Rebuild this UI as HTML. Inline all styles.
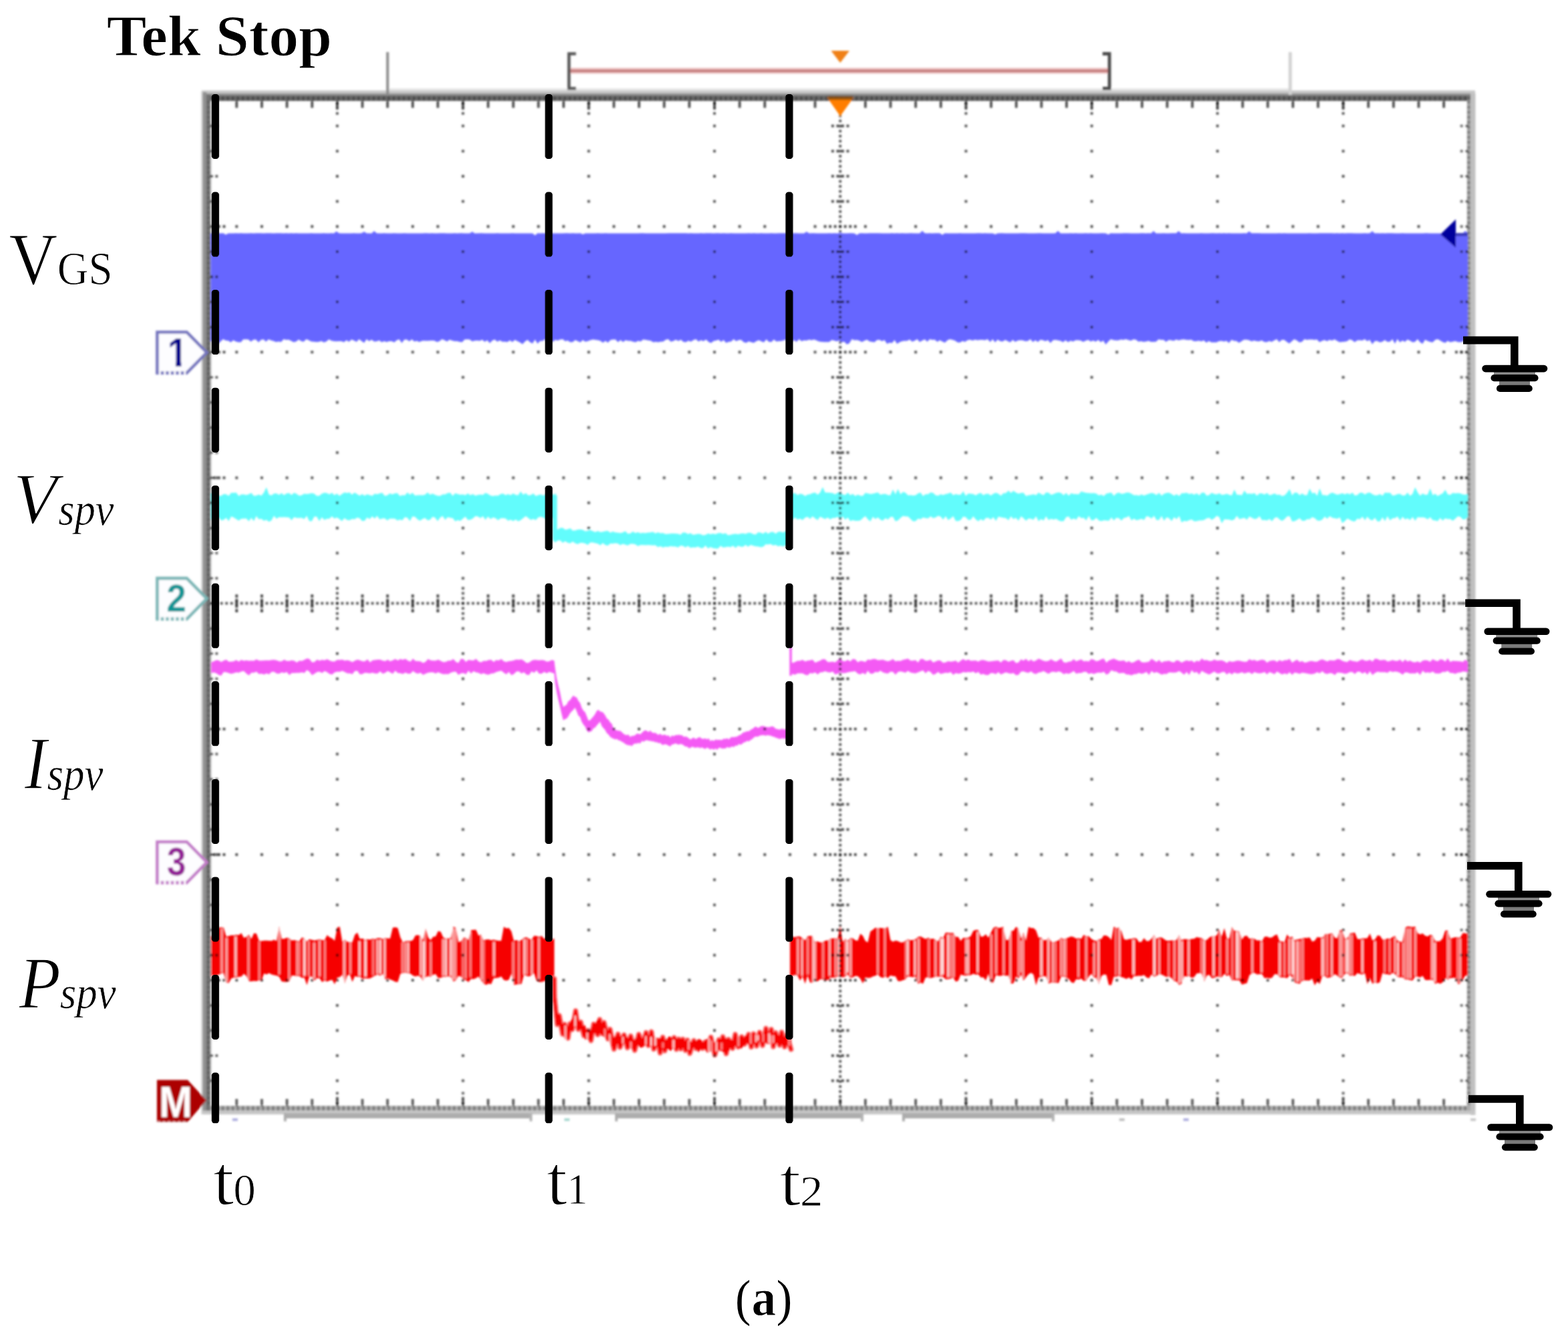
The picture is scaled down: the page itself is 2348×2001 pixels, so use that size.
<!DOCTYPE html>
<html lang="en"><head><meta charset="utf-8"><title>Tek Stop waveform (a)</title>
<style>html,body{margin:0;padding:0;background:#fff;overflow:hidden}svg{display:block}text{font-family:"Liberation Serif","DejaVu Serif",serif;fill:#000}.sans{font-family:"Liberation Sans","DejaVu Sans",sans-serif;font-weight:bold}</style></head><body>
<svg width="2348" height="2001" viewBox="0 0 2348 2001">
<defs><filter id="bl" filterUnits="userSpaceOnUse" x="0" y="0" width="2348" height="2001"><feGaussianBlur stdDeviation="1.7"/></filter><filter id="bl2" filterUnits="userSpaceOnUse" x="0" y="0" width="2348" height="2001"><feGaussianBlur stdDeviation="0.6"/></filter></defs>
<rect width="2348" height="2001" fill="#fff"/>
<g filter="url(#bl)">
<g id="frame">
<rect x="302" y="135.5" width="1907" height="5" fill="#c6c6c6"/>
<rect x="580" y="132.5" width="1352" height="3.2" fill="#e4e4e4"/>
<rect x="303" y="140" width="1906" height="4" fill="#8e8e8e"/>
<rect x="303" y="143.4" width="1900" height="7.8" fill="#666"/>
<rect x="301.3" y="137" width="2.6" height="1532" fill="#d2d2d2"/>
<rect x="303.5" y="138" width="5.8" height="1531" fill="#909090"/>
<rect x="309" y="142" width="5.9" height="1527" fill="#707070"/>
<rect x="314.9" y="151" width="1.8" height="1506" fill="#c8c8c8"/>
<rect x="2196.8" y="150" width="5.2" height="1514" fill="#a4a4a4"/>
<rect x="2202" y="140" width="7.4" height="1530" fill="#c0c0c0"/>
<rect x="315" y="1656.3" width="1887" height="7.2" fill="#ababab"/>
<rect x="303" y="1663.5" width="1906" height="5.6" fill="#c6c6c6"/>
<line x1="316.7" y1="147.3" x2="2199.7" y2="147.3" stroke="#4c4c4c" stroke-width="6.5" stroke-dasharray="3.766 3.766"/>
<line x1="316.7" y1="1659.9" x2="2199.7" y2="1659.9" stroke="#7a7a7a" stroke-width="6.5" stroke-dasharray="3.766 3.766"/>
<line x1="2199.4" y1="151.1" x2="2199.4" y2="1656.3" stroke="#7c7c7c" stroke-width="4.6" stroke-dasharray="3.766 3.766"/>
<line x1="312.6" y1="151.1" x2="312.6" y2="1656.3" stroke="#5e5e5e" stroke-width="4" stroke-dasharray="3.766 3.766"/>
<rect x="425" y="1667.5" width="372" height="7.5" fill="#acacac"/>
<rect x="425" y="1667.5" width="4" height="12" fill="#acacac"/>
<rect x="793" y="1667.5" width="4" height="12" fill="#b4b4b4"/>
<rect x="921" y="1667.5" width="372" height="7.5" fill="#acacac"/>
<rect x="921" y="1667.5" width="4" height="12" fill="#acacac"/>
<rect x="1289" y="1667.5" width="4" height="12" fill="#b4b4b4"/>
<rect x="1351" y="1667.5" width="228" height="7.5" fill="#acacac"/>
<rect x="1351" y="1667.5" width="4" height="12" fill="#acacac"/>
<rect x="1575" y="1667.5" width="4" height="12" fill="#b4b4b4"/>
<rect x="348" y="1675" width="8" height="4" fill="#b0b0e0"/>
<rect x="845" y="1675" width="8" height="4" fill="#a8d8d0"/>
<rect x="1676" y="1675" width="8" height="4" fill="#c0c0c0"/>
<rect x="1772" y="1675" width="8" height="4" fill="#b0b0e0"/>
<rect x="2202" y="1675" width="8" height="4" fill="#c8c8c8"/>
<rect x="578.4" y="78" width="4" height="64" fill="#8a8a8a"/>
<rect x="1929.5" y="78" width="5" height="64" fill="#d2d2d2"/>
</g>
<polygon points="315.5,349.4 319.3,349.4 323.0,349.4 326.8,349.3 330.6,349.5 334.3,349.3 338.1,351.5 341.9,349.4 345.6,349.4 349.4,349.5 353.1,349.3 356.9,349.5 360.7,349.3 364.4,349.5 368.2,349.5 372.0,349.5 375.7,349.3 379.5,349.4 383.3,349.3 387.0,349.3 390.8,349.3 394.6,349.5 398.3,349.3 402.1,349.3 405.9,349.3 409.6,349.5 413.4,349.3 417.2,349.3 420.9,349.3 424.7,349.4 428.4,349.3 432.2,349.4 436.0,349.3 439.7,349.4 443.5,349.3 447.3,349.4 451.0,349.5 454.8,349.4 458.6,349.5 462.3,349.4 466.1,349.3 469.9,349.5 473.6,349.4 477.4,349.4 481.2,349.4 484.9,349.3 488.7,349.5 492.5,349.4 496.2,349.3 500.0,349.5 503.8,346.4 507.5,349.3 511.3,349.5 515.0,349.4 518.8,349.4 522.6,349.4 526.3,349.5 530.1,349.3 533.9,349.4 537.6,349.4 541.4,349.3 545.2,347.1 548.9,349.3 552.7,349.4 556.5,349.5 560.2,345.9 564.0,349.3 567.8,349.4 571.5,349.5 575.3,349.3 579.0,349.4 582.8,349.5 586.6,349.5 590.3,349.3 594.1,349.4 597.9,349.5 601.6,349.4 605.4,349.3 609.2,349.5 612.9,349.5 616.7,349.4 620.5,349.4 624.2,349.4 628.0,349.4 631.8,349.5 635.5,349.3 639.3,349.3 643.1,349.5 646.8,349.3 650.6,349.5 654.4,349.4 658.1,349.3 661.9,349.3 665.6,349.3 669.4,349.4 673.2,349.4 676.9,349.4 680.7,349.3 684.5,349.4 688.2,349.3 692.0,349.3 695.8,349.5 699.5,349.5 703.3,349.4 707.1,346.9 710.8,349.5 714.6,349.4 718.4,349.3 722.1,349.3 725.9,349.5 729.6,349.4 733.4,349.4 737.2,349.5 740.9,349.4 744.7,349.3 748.5,349.5 752.2,349.4 756.0,349.5 759.8,349.4 763.5,349.5 767.3,349.3 771.1,349.4 774.8,349.4 778.6,349.4 782.4,349.5 786.1,349.5 789.9,349.4 793.7,349.4 797.4,349.5 801.2,352.4 805.0,349.3 808.7,349.4 812.5,349.3 816.2,349.5 820.0,349.3 823.8,349.5 827.5,349.5 831.3,349.4 835.1,349.5 838.8,349.5 842.6,349.4 846.4,349.3 850.1,349.3 853.9,349.4 857.7,349.3 861.4,349.4 865.2,349.4 869.0,349.3 872.7,351.1 876.5,349.4 880.2,349.5 884.0,349.4 887.8,349.5 891.5,349.4 895.3,349.3 899.1,349.5 902.8,349.5 906.6,349.3 910.4,349.5 914.1,349.4 917.9,349.5 921.7,349.5 925.4,349.4 929.2,349.4 933.0,349.4 936.7,349.4 940.5,349.4 944.3,349.4 948.0,349.5 951.8,349.4 955.5,349.5 959.3,349.3 963.1,349.3 966.8,349.4 970.6,349.4 974.4,349.5 978.1,349.5 981.9,349.5 985.7,349.5 989.4,349.4 993.2,349.4 997.0,349.4 1000.7,349.3 1004.5,349.3 1008.3,349.3 1012.0,349.3 1015.8,349.3 1019.6,349.3 1023.3,349.3 1027.1,349.3 1030.8,349.4 1034.6,349.3 1038.4,349.4 1042.1,349.4 1045.9,349.4 1049.7,349.3 1053.4,349.5 1057.2,349.3 1061.0,349.3 1064.7,349.3 1068.5,349.4 1072.3,349.3 1076.0,349.3 1079.8,349.4 1083.6,349.3 1087.3,349.5 1091.1,349.4 1094.9,349.3 1098.6,349.4 1102.4,349.5 1106.2,349.4 1109.9,349.4 1113.7,349.5 1117.4,349.5 1121.2,349.3 1125.0,349.4 1128.7,349.3 1132.5,349.4 1136.3,349.5 1140.0,349.3 1143.8,349.5 1147.6,349.4 1151.3,349.4 1155.1,349.3 1158.9,349.4 1162.6,349.5 1166.4,349.3 1170.2,349.3 1173.9,349.3 1177.7,349.3 1181.5,349.4 1185.2,349.5 1189.0,349.3 1192.7,349.3 1196.5,349.4 1200.3,349.5 1204.0,349.5 1207.8,346.9 1211.6,349.4 1215.3,349.3 1219.1,349.3 1222.9,349.4 1226.6,349.5 1230.4,349.5 1234.2,349.4 1237.9,349.4 1241.7,349.3 1245.5,349.4 1249.2,349.3 1253.0,349.4 1256.8,349.3 1260.5,349.3 1264.3,349.5 1268.0,349.5 1271.8,349.3 1275.6,349.3 1279.3,349.5 1283.1,352.1 1286.9,349.5 1290.6,349.3 1294.4,349.5 1298.2,349.5 1301.9,349.3 1305.7,349.3 1309.5,349.3 1313.2,349.3 1317.0,349.3 1320.8,349.5 1324.5,349.4 1328.3,349.5 1332.0,349.4 1335.8,349.3 1339.6,349.5 1343.3,349.3 1347.1,349.5 1350.9,349.3 1354.6,349.4 1358.4,349.5 1362.2,349.3 1365.9,349.3 1369.7,349.5 1373.5,349.4 1377.2,349.5 1381.0,345.8 1384.8,349.3 1388.5,349.4 1392.3,349.3 1396.1,349.4 1399.8,349.3 1403.6,349.3 1407.3,349.3 1411.1,351.8 1414.9,349.3 1418.6,349.5 1422.4,349.4 1426.2,349.5 1429.9,349.4 1433.7,349.4 1437.5,349.3 1441.2,349.5 1445.0,349.4 1448.8,349.5 1452.5,349.4 1456.3,349.4 1460.1,349.5 1463.8,349.3 1467.6,349.3 1471.4,349.5 1475.1,349.3 1478.9,349.5 1482.7,349.4 1486.4,349.5 1490.2,351.0 1493.9,349.4 1497.7,349.3 1501.5,349.3 1505.2,349.4 1509.0,349.4 1512.8,349.4 1516.5,349.5 1520.3,349.4 1524.1,349.4 1527.8,349.3 1531.6,349.3 1535.4,349.3 1539.1,349.4 1542.9,349.4 1546.7,349.4 1550.4,349.4 1554.2,349.3 1558.0,349.3 1561.7,349.4 1565.5,349.5 1569.2,349.4 1573.0,349.5 1576.8,349.4 1580.5,349.3 1584.3,345.7 1588.1,349.4 1591.8,349.4 1595.6,349.4 1599.4,349.5 1603.1,349.3 1606.9,349.4 1610.7,349.3 1614.4,349.4 1618.2,349.5 1622.0,349.4 1625.7,349.3 1629.5,349.4 1633.2,349.3 1637.0,349.5 1640.8,349.4 1644.5,349.4 1648.3,349.3 1652.1,349.3 1655.8,349.4 1659.6,351.2 1663.4,349.3 1667.1,349.4 1670.9,349.5 1674.7,349.5 1678.4,349.4 1682.2,349.3 1686.0,349.3 1689.7,349.3 1693.5,349.4 1697.3,349.5 1701.0,349.4 1704.8,349.4 1708.5,349.3 1712.3,349.3 1716.1,349.4 1719.8,349.3 1723.6,349.5 1727.4,346.0 1731.1,349.5 1734.9,349.5 1738.7,349.4 1742.4,349.3 1746.2,349.4 1750.0,349.4 1753.7,349.3 1757.5,349.3 1761.3,349.3 1765.0,345.9 1768.8,349.4 1772.6,349.3 1776.3,349.4 1780.1,349.5 1783.8,349.5 1787.6,349.5 1791.4,349.4 1795.1,349.5 1798.9,349.3 1802.7,349.4 1806.4,349.4 1810.2,349.4 1814.0,349.3 1817.7,349.3 1821.5,349.5 1825.3,349.3 1829.0,349.5 1832.8,349.3 1836.6,349.5 1840.3,349.3 1844.1,349.5 1847.9,349.5 1851.6,349.5 1855.4,349.4 1859.2,349.4 1862.9,349.3 1866.7,349.5 1870.4,346.4 1874.2,349.3 1878.0,349.3 1881.7,349.3 1885.5,349.3 1889.3,349.4 1893.0,349.4 1896.8,349.4 1900.6,349.5 1904.3,349.5 1908.1,349.4 1911.9,349.4 1915.6,349.3 1919.4,349.5 1923.2,349.3 1926.9,349.4 1930.7,349.4 1934.5,349.4 1938.2,349.5 1942.0,349.4 1945.7,349.5 1949.5,349.5 1953.3,349.5 1957.0,349.4 1960.8,349.3 1964.6,349.5 1968.3,349.4 1972.1,349.5 1975.9,349.3 1979.6,349.3 1983.4,349.3 1987.2,349.3 1990.9,349.3 1994.7,349.3 1998.5,349.4 2002.2,349.3 2006.0,349.4 2009.8,349.3 2013.5,349.5 2017.3,349.3 2021.0,349.3 2024.8,349.3 2028.6,349.4 2032.3,349.4 2036.1,349.5 2039.9,349.4 2043.6,349.3 2047.4,349.4 2051.2,349.3 2054.9,346.2 2058.7,349.5 2062.5,349.3 2066.2,349.4 2070.0,349.3 2073.8,349.5 2077.5,349.3 2081.3,349.3 2085.1,349.3 2088.8,349.4 2092.6,349.5 2096.3,349.4 2100.1,349.3 2103.9,349.4 2107.6,349.5 2111.4,349.4 2115.2,349.5 2118.9,349.4 2122.7,349.5 2126.5,349.4 2130.2,349.5 2134.0,349.3 2137.8,349.3 2141.5,349.4 2145.3,349.4 2149.1,349.5 2152.8,349.4 2156.6,349.4 2160.3,349.4 2164.1,349.4 2167.9,352.1 2171.6,349.3 2175.4,349.5 2179.2,349.3 2182.9,349.5 2186.7,349.5 2190.5,349.3 2194.2,345.7 2198.0,349.3 2198.0,510.2 2194.2,509.1 2190.5,511.4 2186.7,512.6 2182.9,512.3 2179.2,510.8 2175.4,511.7 2171.6,512.6 2167.9,510.6 2164.1,513.5 2160.3,512.3 2156.6,510.0 2152.8,508.1 2149.1,509.1 2145.3,512.7 2141.5,512.0 2137.8,510.8 2134.0,508.8 2130.2,514.9 2126.5,512.4 2122.7,508.0 2118.9,512.0 2115.2,512.4 2111.4,510.3 2107.6,508.4 2103.9,511.9 2100.1,510.0 2096.3,512.7 2092.6,507.8 2088.8,514.8 2085.1,508.0 2081.3,511.7 2077.5,512.0 2073.8,509.2 2070.0,511.8 2066.2,512.8 2062.5,510.7 2058.7,510.8 2054.9,515.4 2051.2,509.0 2047.4,511.0 2043.6,508.1 2039.9,510.0 2036.1,509.6 2032.3,509.8 2028.6,512.5 2024.8,509.4 2021.0,508.2 2017.3,511.0 2013.5,511.8 2009.8,511.9 2006.0,512.6 2002.2,510.4 1998.5,508.3 1994.7,510.1 1990.9,509.0 1987.2,511.0 1983.4,509.3 1979.6,510.5 1975.9,512.5 1972.1,508.4 1968.3,509.1 1964.6,508.6 1960.8,508.5 1957.0,508.9 1953.3,508.1 1949.5,511.9 1945.7,512.7 1942.0,510.1 1938.2,507.9 1934.5,511.1 1930.7,514.4 1926.9,512.1 1923.2,509.1 1919.4,509.0 1915.6,512.6 1911.9,508.1 1908.1,509.7 1904.3,512.1 1900.6,510.7 1896.8,512.5 1893.0,511.9 1889.3,509.8 1885.5,511.3 1881.7,510.9 1878.0,510.1 1874.2,511.3 1870.4,509.4 1866.7,508.8 1862.9,508.8 1859.2,510.9 1855.4,513.5 1851.6,510.7 1847.9,510.5 1844.1,509.0 1840.3,513.7 1836.6,510.5 1832.8,511.4 1829.0,510.4 1825.3,511.0 1821.5,512.8 1817.7,512.7 1814.0,512.8 1810.2,510.8 1806.4,513.3 1802.7,509.7 1798.9,511.2 1795.1,510.3 1791.4,510.9 1787.6,511.0 1783.8,508.7 1780.1,509.2 1776.3,508.9 1772.6,508.3 1768.8,508.8 1765.0,509.8 1761.3,508.5 1757.5,510.5 1753.7,509.5 1750.0,509.2 1746.2,511.9 1742.4,508.9 1738.7,509.1 1734.9,508.3 1731.1,511.8 1727.4,511.9 1723.6,512.0 1719.8,510.5 1716.1,511.4 1712.3,512.1 1708.5,511.1 1704.8,511.8 1701.0,508.8 1697.3,508.2 1693.5,510.3 1689.7,509.2 1686.0,507.9 1682.2,509.1 1678.4,508.5 1674.7,509.7 1670.9,509.8 1667.1,509.3 1663.4,507.9 1659.6,511.5 1655.8,515.9 1652.1,509.9 1648.3,512.5 1644.5,509.0 1640.8,511.8 1637.0,509.9 1633.2,511.6 1629.5,509.1 1625.7,510.3 1622.0,512.1 1618.2,510.1 1614.4,509.4 1610.7,509.4 1606.9,511.5 1603.1,510.3 1599.4,512.6 1595.6,509.4 1591.8,512.6 1588.1,510.5 1584.3,509.8 1580.5,508.9 1576.8,509.6 1573.0,513.8 1569.2,509.2 1565.5,510.9 1561.7,509.6 1558.0,508.7 1554.2,512.3 1550.4,509.4 1546.7,512.3 1542.9,507.9 1539.1,510.7 1535.4,511.0 1531.6,509.8 1527.8,509.4 1524.1,509.9 1520.3,512.1 1516.5,508.9 1512.8,512.7 1509.0,510.9 1505.2,508.9 1501.5,511.4 1497.7,511.1 1493.9,508.5 1490.2,512.7 1486.4,508.1 1482.7,512.2 1478.9,507.9 1475.1,509.6 1471.4,509.1 1467.6,509.1 1463.8,509.6 1460.1,508.8 1456.3,510.0 1452.5,508.8 1448.8,509.5 1445.0,512.0 1441.2,510.8 1437.5,513.1 1433.7,512.7 1429.9,510.1 1426.2,508.9 1422.4,508.0 1418.6,509.8 1414.9,513.2 1411.1,511.6 1407.3,509.6 1403.6,512.0 1399.8,508.7 1396.1,509.1 1392.3,508.0 1388.5,511.8 1384.8,508.2 1381.0,510.0 1377.2,512.2 1373.5,508.0 1369.7,510.2 1365.9,511.7 1362.2,508.6 1358.4,510.4 1354.6,510.4 1350.9,511.0 1347.1,512.4 1343.3,515.1 1339.6,509.2 1335.8,513.7 1332.0,513.3 1328.3,514.9 1324.5,509.3 1320.8,511.1 1317.0,509.0 1313.2,509.3 1309.5,512.5 1305.7,512.1 1301.9,511.2 1298.2,508.8 1294.4,510.2 1290.6,512.3 1286.9,510.2 1283.1,509.3 1279.3,509.6 1275.6,508.1 1271.8,514.3 1268.0,515.7 1264.3,511.8 1260.5,512.6 1256.8,509.8 1253.0,511.3 1249.2,510.0 1245.5,509.3 1241.7,512.3 1237.9,512.3 1234.2,512.3 1230.4,512.1 1226.6,511.6 1222.9,509.9 1219.1,508.5 1215.3,509.5 1211.6,508.7 1207.8,510.1 1204.0,509.7 1200.3,511.1 1196.5,508.0 1192.7,512.0 1189.0,509.2 1185.2,511.9 1181.5,510.6 1177.7,508.5 1173.9,509.6 1170.2,510.7 1166.4,510.9 1162.6,511.4 1158.9,508.5 1155.1,512.3 1151.3,511.9 1147.6,508.3 1143.8,512.8 1140.0,511.3 1136.3,509.5 1132.5,511.0 1128.7,513.6 1125.0,512.4 1121.2,511.3 1117.4,513.4 1113.7,512.5 1109.9,509.1 1106.2,509.3 1102.4,510.9 1098.6,507.9 1094.9,511.4 1091.1,511.9 1087.3,513.4 1083.6,509.3 1079.8,512.0 1076.0,508.8 1072.3,509.9 1068.5,510.7 1064.7,513.8 1061.0,512.0 1057.2,508.6 1053.4,511.0 1049.7,509.4 1045.9,511.4 1042.1,507.9 1038.4,509.2 1034.6,511.8 1030.8,510.2 1027.1,512.4 1023.3,511.9 1019.6,508.7 1015.8,510.8 1012.0,508.7 1008.3,510.7 1004.5,511.7 1000.7,508.1 997.0,508.8 993.2,511.5 989.4,511.8 985.7,512.6 981.9,512.1 978.1,512.4 974.4,510.3 970.6,509.8 966.8,508.9 963.1,508.5 959.3,511.5 955.5,510.5 951.8,512.6 948.0,511.8 944.3,510.6 940.5,510.6 936.7,509.6 933.0,512.3 929.2,509.3 925.4,512.5 921.7,508.4 917.9,508.5 914.1,509.3 910.4,513.3 906.6,510.6 902.8,513.3 899.1,510.5 895.3,509.6 891.5,508.9 887.8,508.4 884.0,509.5 880.2,511.0 876.5,511.8 872.7,509.2 869.0,512.7 865.2,511.0 861.4,509.2 857.7,512.3 853.9,512.6 850.1,509.9 846.4,511.1 842.6,508.1 838.8,508.4 835.1,510.1 831.3,509.0 827.5,512.3 823.8,508.1 820.0,511.6 816.2,507.9 812.5,510.6 808.7,510.8 805.0,514.7 801.2,508.6 797.4,514.6 793.7,512.6 789.9,509.1 786.1,511.4 782.4,515.5 778.6,512.8 774.8,511.1 771.1,509.0 767.3,512.2 763.5,509.8 759.8,512.2 756.0,511.7 752.2,511.8 748.5,509.8 744.7,511.8 740.9,508.6 737.2,510.1 733.4,513.9 729.6,509.4 725.9,512.1 722.1,508.8 718.4,510.4 714.6,510.1 710.8,510.3 707.1,511.2 703.3,508.4 699.5,508.3 695.8,508.5 692.0,512.4 688.2,511.9 684.5,510.9 680.7,511.0 676.9,509.9 673.2,508.8 669.4,511.5 665.6,509.4 661.9,507.9 658.1,510.9 654.4,512.3 650.6,510.2 646.8,509.9 643.1,510.3 639.3,510.4 635.5,510.3 631.8,510.4 628.0,512.3 624.2,510.6 620.5,511.4 616.7,508.2 612.9,511.2 609.2,508.5 605.4,508.7 601.6,513.7 597.9,508.2 594.1,509.4 590.3,512.7 586.6,511.0 582.8,511.1 579.0,512.2 575.3,510.9 571.5,512.5 567.8,509.8 564.0,511.3 560.2,511.4 556.5,508.8 552.7,511.1 548.9,508.0 545.2,513.6 541.4,510.7 537.6,508.0 533.9,512.0 530.1,509.9 526.3,508.6 522.6,512.0 518.8,509.4 515.0,512.4 511.3,511.1 507.5,511.1 503.8,511.2 500.0,510.9 496.2,510.2 492.5,508.2 488.7,511.5 484.9,512.8 481.2,510.7 477.4,512.1 473.6,512.3 469.9,511.8 466.1,511.5 462.3,509.4 458.6,507.9 454.8,511.7 451.0,511.1 447.3,508.5 443.5,511.6 439.7,512.4 436.0,510.6 432.2,508.7 428.4,509.1 424.7,508.0 420.9,512.2 417.2,511.5 413.4,512.3 409.6,510.7 405.9,509.7 402.1,508.3 398.3,511.7 394.6,508.3 390.8,508.9 387.0,512.7 383.3,508.4 379.5,508.8 375.7,511.8 372.0,508.4 368.2,508.2 364.4,508.2 360.7,512.4 356.9,512.6 353.1,511.6 349.4,509.4 345.6,512.8 341.9,510.3 338.1,510.0 334.3,508.1 330.6,510.9 326.8,515.2 323.0,508.3 319.3,508.7 315.5,512.4" fill="#6666ff" />
<polygon points="316.0,739.1 319.8,738.4 323.5,740.5 327.3,742.6 331.1,742.7 334.9,740.0 338.6,740.3 342.4,742.7 346.2,737.9 349.9,738.2 353.7,737.8 357.5,742.9 361.2,740.4 365.0,740.4 368.8,741.4 372.6,740.2 376.3,738.2 380.1,742.7 383.9,742.2 387.6,740.7 391.4,742.6 395.2,737.7 398.9,729.7 402.7,740.7 406.5,741.9 410.3,739.3 414.0,738.9 417.8,741.2 421.6,738.5 425.3,741.8 429.1,738.9 432.9,738.5 436.6,741.5 440.4,737.9 444.2,739.8 448.0,742.5 451.7,741.8 455.5,739.6 459.3,740.1 463.0,739.6 466.8,738.6 470.6,739.4 474.3,742.7 478.1,742.4 481.9,739.5 485.7,737.9 489.4,738.5 493.2,740.6 497.0,737.9 500.7,741.7 504.5,739.3 508.3,742.8 512.0,740.1 515.8,737.6 519.6,738.4 523.4,737.6 527.1,741.1 530.9,737.7 534.7,740.1 538.4,742.4 542.2,740.0 546.0,742.6 549.7,740.3 553.5,741.5 557.3,742.7 561.1,739.4 564.8,740.3 568.6,739.0 572.4,738.0 576.1,742.8 579.9,741.9 583.7,738.9 587.4,740.6 591.2,739.1 595.0,738.6 598.8,742.9 602.5,741.4 606.3,742.0 610.1,737.6 613.8,740.9 617.6,737.9 621.4,742.3 625.1,741.7 628.9,741.5 632.7,741.8 636.5,741.0 640.2,737.6 644.0,741.1 647.8,739.2 651.5,741.3 655.3,742.5 659.1,742.8 662.8,740.4 666.6,740.4 670.4,738.6 674.2,737.9 677.9,742.7 681.7,738.8 685.5,739.9 689.2,741.0 693.0,740.5 696.8,741.7 700.5,739.0 704.3,741.7 708.1,739.9 711.9,742.4 715.6,741.3 719.4,740.7 723.2,741.2 726.9,738.2 730.7,739.7 734.5,742.2 738.2,742.9 742.0,742.3 745.8,742.4 749.6,740.0 753.3,739.2 757.1,741.8 760.9,740.0 764.6,741.8 768.4,739.1 772.2,741.2 775.9,741.7 779.7,735.9 783.5,740.9 787.3,738.6 791.0,742.0 794.8,741.4 798.6,738.9 802.3,742.9 806.1,741.5 809.9,740.4 813.6,742.4 817.4,739.8 821.2,740.4 825.0,739.4 828.7,741.3 832.5,739.0 832.5,780.6 828.7,779.5 825.0,773.1 821.2,777.3 817.4,777.6 813.6,775.0 809.9,773.9 806.1,774.8 802.3,779.1 798.6,777.3 794.8,778.8 791.0,775.8 787.3,773.0 783.5,775.9 779.7,779.0 775.9,780.8 772.2,778.1 768.4,780.6 764.6,778.2 760.9,780.1 757.1,776.5 753.3,776.0 749.6,776.2 745.8,779.2 742.0,776.0 738.2,775.1 734.5,777.5 730.7,773.4 726.9,778.8 723.2,772.9 719.4,775.9 715.6,773.6 711.9,773.1 708.1,776.5 704.3,778.5 700.5,778.7 696.8,773.8 693.0,777.0 689.2,780.2 685.5,779.0 681.7,780.7 677.9,776.0 674.2,775.5 670.4,774.6 666.6,778.8 662.8,772.8 659.1,775.3 655.3,780.6 651.5,775.3 647.8,774.1 644.0,778.4 640.2,779.3 636.5,775.8 632.7,777.3 628.9,779.9 625.1,777.8 621.4,774.1 617.6,773.4 613.8,780.4 610.1,775.4 606.3,774.6 602.5,779.3 598.8,778.3 595.0,779.6 591.2,776.8 587.4,776.7 583.7,776.8 579.9,779.5 576.1,776.3 572.4,776.6 568.6,777.9 564.8,772.5 561.1,776.7 557.3,773.3 553.5,777.5 549.7,775.0 546.0,780.0 542.2,780.3 538.4,776.0 534.7,775.2 530.9,777.8 527.1,777.3 523.4,779.3 519.6,778.8 515.8,775.9 512.0,780.5 508.3,777.6 504.5,775.0 500.7,776.8 497.0,773.2 493.2,777.0 489.4,777.0 485.7,778.7 481.9,774.8 478.1,780.6 474.3,773.7 470.6,773.7 466.8,780.7 463.0,780.3 459.3,772.6 455.5,777.5 451.7,775.4 448.0,775.8 444.2,775.7 440.4,774.6 436.6,779.2 432.9,775.1 429.1,774.7 425.3,774.5 421.6,774.7 417.8,774.5 414.0,777.0 410.3,772.6 406.5,779.6 402.7,781.6 398.9,778.4 395.2,779.9 391.4,776.9 387.6,777.7 383.9,772.7 380.1,780.6 376.3,775.4 372.6,780.8 368.8,776.6 365.0,776.7 361.2,777.0 357.5,779.8 353.7,777.4 349.9,775.1 346.2,773.4 342.4,780.5 338.6,775.5 334.9,778.7 331.1,779.2 327.3,774.7 323.5,777.0 319.8,779.8 316.0,776.8" fill="#62fcfc" />
<rect x="827.6" y="742" width="6.6" height="62" fill="#62fcfc"/>
<polygon points="827.6,791.9 831.4,790.7 835.1,793.5 838.9,790.7 842.6,790.6 846.4,793.5 850.1,792.8 853.9,791.2 857.6,794.8 861.4,794.4 865.1,793.2 868.9,793.0 872.6,793.6 876.4,795.8 880.1,795.1 883.9,793.8 887.6,795.6 891.4,797.1 895.1,795.2 898.9,797.0 902.6,796.5 906.4,795.4 910.1,795.1 913.9,797.9 917.6,796.0 921.4,797.6 925.1,797.7 928.9,798.5 932.6,797.6 936.4,795.6 940.1,799.4 943.9,799.0 947.7,796.1 951.4,798.6 955.2,797.0 958.9,798.8 962.7,798.0 966.4,798.5 970.2,797.8 973.9,797.6 977.7,796.6 981.4,799.0 985.2,797.2 988.9,798.8 992.7,798.2 996.4,800.1 1000.2,799.8 1003.9,799.3 1007.7,798.9 1011.4,799.2 1015.2,799.5 1018.9,801.0 1022.7,797.6 1026.4,797.7 1030.2,800.1 1033.9,798.4 1037.7,801.0 1041.4,800.5 1045.2,799.6 1048.9,800.0 1052.7,801.8 1056.4,801.2 1060.2,798.9 1063.9,800.2 1067.7,799.3 1071.5,800.2 1075.2,798.4 1079.0,798.2 1082.7,799.7 1086.5,798.5 1090.2,801.7 1094.0,800.9 1097.7,800.1 1101.5,799.5 1105.2,800.3 1109.0,799.3 1112.7,798.7 1116.5,799.8 1120.2,798.1 1124.0,798.0 1127.7,800.1 1131.5,800.7 1135.2,797.2 1139.0,797.8 1142.7,799.5 1146.5,796.6 1150.2,799.4 1154.0,796.9 1157.7,796.6 1161.5,799.6 1165.2,796.6 1169.0,796.2 1172.7,797.7 1176.5,795.3 1180.2,796.5 1184.0,795.8 1184.0,817.0 1180.2,817.7 1176.5,816.5 1172.7,818.6 1169.0,817.2 1165.2,818.3 1161.5,816.0 1157.7,816.9 1154.0,814.8 1150.2,815.6 1146.5,815.2 1142.7,819.0 1139.0,819.4 1135.2,818.6 1131.5,818.3 1127.7,817.3 1124.0,816.1 1120.2,819.1 1116.5,816.0 1112.7,818.9 1109.0,818.8 1105.2,817.3 1101.5,820.8 1097.7,817.2 1094.0,819.4 1090.2,818.7 1086.5,819.5 1082.7,819.9 1079.0,817.5 1075.2,821.7 1071.5,821.6 1067.7,821.0 1063.9,819.2 1060.2,821.4 1056.4,816.9 1052.7,821.0 1048.9,820.8 1045.2,818.4 1041.4,820.0 1037.7,819.7 1033.9,820.6 1030.2,817.6 1026.4,820.1 1022.7,817.6 1018.9,817.2 1015.2,819.9 1011.4,818.6 1007.7,818.4 1003.9,817.9 1000.2,819.3 996.4,818.8 992.7,820.0 988.9,818.0 985.2,819.6 981.4,816.6 977.7,816.7 973.9,816.4 970.2,816.2 966.4,816.6 962.7,816.2 958.9,816.2 955.2,817.9 951.4,815.3 947.7,814.4 943.9,814.5 940.1,817.1 936.4,815.7 932.6,814.4 928.9,816.5 925.1,813.9 921.4,813.6 917.6,814.3 913.9,814.1 910.1,817.2 906.4,816.2 902.6,813.3 898.9,816.8 895.1,814.2 891.4,813.6 887.6,812.4 883.9,812.6 880.1,816.2 876.4,814.0 872.6,813.1 868.9,813.1 865.1,814.9 861.4,813.7 857.6,811.0 853.9,813.8 850.1,812.9 846.4,810.5 842.6,812.9 838.9,809.2 835.1,809.6 831.4,812.5 827.6,808.6" fill="#62fcfc" />
<polygon points="1183.0,738.5 1186.8,739.0 1190.5,738.5 1194.3,741.4 1198.0,739.6 1201.8,740.2 1205.6,742.9 1209.3,740.8 1213.1,740.2 1216.8,738.5 1220.6,737.7 1224.4,740.9 1228.1,737.8 1231.9,729.4 1235.6,737.8 1239.4,737.7 1243.1,738.1 1246.9,738.4 1250.7,740.6 1254.4,737.7 1258.2,737.6 1261.9,740.5 1265.7,741.4 1269.5,737.7 1273.2,741.8 1277.0,739.7 1280.7,742.9 1284.5,740.8 1288.3,742.4 1292.0,742.8 1295.8,738.2 1299.5,739.0 1303.3,740.0 1307.1,739.5 1310.8,738.6 1314.6,737.5 1318.3,741.0 1322.1,740.1 1325.9,739.8 1329.6,741.6 1333.4,741.8 1337.1,732.9 1340.9,740.6 1344.6,732.3 1348.4,740.5 1352.2,736.7 1355.9,737.9 1359.7,742.0 1363.4,741.5 1367.2,742.2 1371.0,741.8 1374.7,738.9 1378.5,737.8 1382.2,742.9 1386.0,740.3 1389.8,740.2 1393.5,737.6 1397.3,738.3 1401.0,741.7 1404.8,742.4 1408.6,740.2 1412.3,741.6 1416.1,740.0 1419.8,739.3 1423.6,737.7 1427.4,741.8 1431.1,740.1 1434.9,741.0 1438.6,740.9 1442.4,735.8 1446.1,742.7 1449.9,739.2 1453.7,739.4 1457.4,740.0 1461.2,742.0 1464.9,739.5 1468.7,738.2 1472.5,741.7 1476.2,739.7 1480.0,739.5 1483.7,742.2 1487.5,739.6 1491.3,738.1 1495.0,739.6 1498.8,742.4 1502.5,738.7 1506.3,738.6 1510.1,734.7 1513.8,738.6 1517.6,735.1 1521.3,737.7 1525.1,739.5 1528.9,738.2 1532.6,738.0 1536.4,743.0 1540.1,741.7 1543.9,741.2 1547.6,740.3 1551.4,741.8 1555.2,737.8 1558.9,739.9 1562.7,741.8 1566.4,737.5 1570.2,737.9 1574.0,741.2 1577.7,740.0 1581.5,738.3 1585.2,737.5 1589.0,738.4 1592.8,741.7 1596.5,738.2 1600.3,742.5 1604.0,738.8 1607.8,739.9 1611.6,740.0 1615.3,740.6 1619.1,736.0 1622.8,737.2 1626.6,738.3 1630.4,738.5 1634.1,738.8 1637.9,738.5 1641.6,739.2 1645.4,741.9 1649.1,740.8 1652.9,743.0 1656.7,739.2 1660.4,738.6 1664.2,737.8 1667.9,742.7 1671.7,738.9 1675.5,737.8 1679.2,739.7 1683.0,739.3 1686.7,737.8 1690.5,737.7 1694.3,739.5 1698.0,741.8 1701.8,741.6 1705.5,742.4 1709.3,740.4 1713.1,742.2 1716.8,740.8 1720.6,739.6 1724.3,738.3 1728.1,739.2 1731.9,741.5 1735.6,737.9 1739.4,742.6 1743.1,739.4 1746.9,738.2 1750.6,738.1 1754.4,739.9 1758.2,742.5 1761.9,740.0 1765.7,743.0 1769.4,738.7 1773.2,738.8 1777.0,738.1 1780.7,740.1 1784.5,739.0 1788.2,741.0 1792.0,738.7 1795.8,742.1 1799.5,737.9 1803.3,737.7 1807.0,742.4 1810.8,741.2 1814.6,737.9 1818.3,740.0 1822.1,740.5 1825.8,738.8 1829.6,741.3 1833.4,740.8 1837.1,739.4 1840.9,741.2 1844.6,741.9 1848.4,733.3 1852.1,740.9 1855.9,740.9 1859.7,741.7 1863.4,734.7 1867.2,739.7 1870.9,739.2 1874.7,739.8 1878.5,738.6 1882.2,742.4 1886.0,739.0 1889.7,739.1 1893.5,740.8 1897.3,738.2 1901.0,741.8 1904.8,740.8 1908.5,739.0 1912.3,741.2 1916.1,740.8 1919.8,742.9 1923.6,742.0 1927.3,738.0 1931.1,732.6 1934.9,742.0 1938.6,737.7 1942.4,738.1 1946.1,741.7 1949.9,739.0 1953.6,741.7 1957.4,741.6 1961.2,731.7 1964.9,739.1 1968.7,737.7 1972.4,742.7 1976.2,731.4 1980.0,741.4 1983.7,741.5 1987.5,742.5 1991.2,739.5 1995.0,737.7 1998.8,739.5 2002.5,741.1 2006.3,739.9 2010.0,738.8 2013.8,740.5 2017.6,738.7 2021.3,740.5 2025.1,737.8 2028.8,742.3 2032.6,741.5 2036.4,738.0 2040.1,738.1 2043.9,740.8 2047.6,738.3 2051.4,737.7 2055.1,740.2 2058.9,741.9 2062.7,741.7 2066.4,739.9 2070.2,742.4 2073.9,737.8 2077.7,738.3 2081.5,737.9 2085.2,742.2 2089.0,741.8 2092.7,740.0 2096.5,739.8 2100.3,742.3 2104.0,742.1 2107.8,737.8 2111.5,742.7 2115.3,739.8 2119.1,729.7 2122.8,737.6 2126.6,742.5 2130.3,739.1 2134.1,741.2 2137.9,740.7 2141.6,731.5 2145.4,741.8 2149.1,739.5 2152.9,742.9 2156.6,740.7 2160.4,738.9 2164.2,733.5 2167.9,740.5 2171.7,741.2 2175.4,738.2 2179.2,739.1 2183.0,738.5 2186.7,739.0 2190.5,740.4 2194.2,740.9 2198.0,740.1 2198.0,774.3 2194.2,777.7 2190.5,778.0 2186.7,774.1 2183.0,773.2 2179.2,776.9 2175.4,780.0 2171.7,777.2 2167.9,777.6 2164.2,776.2 2160.4,779.8 2156.6,775.7 2152.9,780.4 2149.1,779.5 2145.4,778.9 2141.6,774.6 2137.9,778.0 2134.1,775.4 2130.3,774.7 2126.6,774.9 2122.8,774.6 2119.1,779.9 2115.3,774.3 2111.5,778.9 2107.8,776.2 2104.0,778.0 2100.3,773.9 2096.5,779.5 2092.7,773.5 2089.0,776.0 2085.2,776.2 2081.5,779.5 2077.7,773.1 2073.9,780.6 2070.2,774.8 2066.4,780.7 2062.7,780.9 2058.9,775.4 2055.1,779.6 2051.4,778.3 2047.6,773.7 2043.9,779.3 2040.1,773.7 2036.4,777.7 2032.6,776.8 2028.8,780.9 2025.1,780.4 2021.3,778.4 2017.6,776.6 2013.8,780.6 2010.0,783.5 2006.3,774.7 2002.5,777.0 1998.8,776.2 1995.0,775.5 1991.2,773.1 1987.5,777.1 1983.7,773.8 1980.0,778.3 1976.2,779.9 1972.4,779.5 1968.7,776.1 1964.9,774.4 1961.2,777.8 1957.4,777.5 1953.6,780.0 1949.9,780.1 1946.1,776.0 1942.4,778.5 1938.6,780.4 1934.9,781.1 1931.1,773.0 1927.3,773.6 1923.6,777.4 1919.8,780.3 1916.1,778.1 1912.3,774.4 1908.5,775.8 1904.8,780.7 1901.0,777.3 1897.3,779.6 1893.5,778.8 1889.7,779.0 1886.0,773.1 1882.2,776.7 1878.5,777.6 1874.7,775.4 1870.9,773.6 1867.2,778.4 1863.4,775.5 1859.7,776.4 1855.9,777.5 1852.1,772.5 1848.4,777.9 1844.6,779.4 1840.9,778.2 1837.1,778.1 1833.4,777.7 1829.6,783.7 1825.8,774.4 1822.1,772.5 1818.3,776.3 1814.6,778.7 1810.8,775.6 1807.0,776.3 1803.3,778.7 1799.5,779.6 1795.8,779.5 1792.0,780.6 1788.2,780.8 1784.5,778.1 1780.7,779.0 1777.0,780.8 1773.2,780.1 1769.4,782.6 1765.7,772.7 1761.9,777.7 1758.2,774.4 1754.4,780.5 1750.6,776.0 1746.9,774.8 1743.1,780.0 1739.4,772.8 1735.6,778.7 1731.9,779.1 1728.1,772.6 1724.3,776.7 1720.6,773.9 1716.8,772.9 1713.1,778.9 1709.3,777.0 1705.5,778.2 1701.8,779.2 1698.0,776.7 1694.3,779.4 1690.5,772.7 1686.7,775.0 1683.0,775.7 1679.2,779.7 1675.5,776.0 1671.7,775.4 1667.9,779.5 1664.2,775.0 1660.4,779.9 1656.7,779.6 1652.9,779.3 1649.1,780.5 1645.4,779.4 1641.6,775.5 1637.9,779.0 1634.1,779.2 1630.4,772.6 1626.6,779.6 1622.8,775.6 1619.1,776.1 1615.3,772.9 1611.6,778.5 1607.8,776.5 1604.0,778.6 1600.3,773.6 1596.5,774.5 1592.8,780.5 1589.0,780.8 1585.2,779.6 1581.5,777.0 1577.7,778.2 1574.0,776.9 1570.2,779.0 1566.4,773.3 1562.7,779.7 1558.9,777.3 1555.2,780.7 1551.4,773.3 1547.6,778.4 1543.9,777.0 1540.1,776.5 1536.4,780.1 1532.6,776.0 1528.9,773.3 1525.1,779.9 1521.3,775.5 1517.6,777.6 1513.8,773.2 1510.1,779.3 1506.3,776.1 1502.5,775.5 1498.8,774.7 1495.0,773.7 1491.3,780.3 1487.5,774.6 1483.7,778.2 1480.0,775.5 1476.2,775.7 1472.5,780.0 1468.7,777.6 1464.9,780.8 1461.2,778.0 1457.4,773.3 1453.7,778.4 1449.9,778.8 1446.1,774.6 1442.4,773.7 1438.6,778.7 1434.9,780.4 1431.1,780.3 1427.4,772.9 1423.6,776.5 1419.8,779.1 1416.1,772.9 1412.3,778.2 1408.6,773.7 1404.8,772.6 1401.0,775.0 1397.3,776.1 1393.5,773.2 1389.8,776.6 1386.0,775.9 1382.2,775.0 1378.5,777.7 1374.7,776.8 1371.0,780.4 1367.2,780.8 1363.4,777.2 1359.7,773.5 1355.9,773.6 1352.2,772.8 1348.4,775.7 1344.6,779.5 1340.9,780.7 1337.1,774.1 1333.4,774.2 1329.6,778.3 1325.9,775.9 1322.1,779.8 1318.3,778.6 1314.6,774.8 1310.8,777.4 1307.1,774.1 1303.3,780.9 1299.5,777.7 1295.8,773.0 1292.0,775.9 1288.3,779.6 1284.5,780.1 1280.7,779.9 1277.0,779.0 1273.2,780.4 1269.5,775.0 1265.7,778.5 1261.9,773.6 1258.2,777.5 1254.4,774.1 1250.7,775.8 1246.9,775.7 1243.1,777.9 1239.4,774.9 1235.6,777.6 1231.9,775.7 1228.1,773.8 1224.4,779.0 1220.6,776.5 1216.8,773.2 1213.1,777.3 1209.3,774.0 1205.6,775.3 1201.8,779.1 1198.0,776.7 1194.3,778.2 1190.5,775.0 1186.8,778.2 1183.0,780.7" fill="#62fcfc" />
<polygon points="316.0,991.7 319.8,990.8 323.6,988.7 327.3,989.1 331.1,991.4 334.9,989.5 338.7,987.9 342.5,991.1 346.2,990.9 350.0,990.4 353.8,988.6 357.6,991.1 361.4,988.2 365.1,989.7 368.9,989.0 372.7,989.8 376.5,989.4 380.2,989.8 384.0,987.6 387.8,989.4 391.6,989.6 395.4,989.2 399.1,989.0 402.9,989.2 406.7,988.6 410.5,988.2 414.3,989.0 418.0,990.6 421.8,990.4 425.6,987.9 429.4,990.0 433.2,990.0 436.9,988.9 440.7,989.8 444.5,992.3 448.3,989.5 452.1,989.9 455.8,988.2 459.6,986.2 463.4,987.0 467.2,992.0 471.0,991.5 474.7,987.9 478.5,989.6 482.3,988.3 486.1,988.9 489.9,987.2 493.6,989.2 497.4,990.8 501.2,990.8 505.0,988.2 508.8,988.5 512.5,988.0 516.3,989.6 520.1,988.8 523.9,989.8 527.6,991.7 531.4,989.6 535.2,988.0 539.0,988.9 542.8,990.5 546.5,990.4 550.3,987.6 554.1,991.9 557.9,989.0 561.7,988.6 565.4,988.1 569.2,988.1 573.0,989.6 576.8,990.3 580.6,987.9 584.3,990.5 588.1,989.1 591.9,986.9 595.7,989.2 599.5,987.0 603.2,988.3 607.0,986.7 610.8,989.5 614.6,991.1 618.4,986.5 622.1,990.0 625.9,990.3 629.7,990.5 633.5,993.0 637.2,991.3 641.0,986.9 644.8,988.9 648.6,989.6 652.4,989.5 656.1,988.0 659.9,989.7 663.7,991.8 667.5,991.2 671.3,989.4 675.0,989.4 678.8,987.0 682.6,991.2 686.4,993.0 690.2,986.7 693.9,987.0 697.7,991.5 701.5,988.2 705.3,989.0 709.1,989.3 712.8,986.8 716.6,990.7 720.4,992.1 724.2,989.7 728.0,990.1 731.7,988.4 735.5,988.2 739.3,991.4 743.1,988.4 746.9,989.2 750.6,987.0 754.4,990.6 758.2,991.5 762.0,990.2 765.8,989.9 769.5,988.9 773.3,987.7 777.1,988.3 780.9,987.5 784.6,989.8 788.4,992.9 792.2,992.5 796.0,989.5 799.8,988.3 803.5,988.5 807.3,989.1 811.1,988.6 814.9,988.9 818.7,991.1 822.4,990.6 826.2,988.6 830.0,989.6 831.0,998.8 833.5,1015.2 836.0,1026.5 838.5,1036.8 841.0,1049.6 843.5,1059.1 846.0,1057.0 848.5,1055.6 851.0,1050.3 853.5,1048.8 856.0,1044.9 858.5,1041.7 861.0,1043.7 863.5,1044.6 866.0,1049.6 868.6,1052.8 871.1,1059.9 873.6,1064.4 876.1,1066.5 878.6,1072.4 881.1,1079.3 883.6,1078.8 886.1,1075.7 888.6,1073.0 891.1,1069.5 893.6,1064.7 896.1,1063.1 898.6,1065.8 901.1,1065.9 903.6,1067.8 906.1,1071.3 908.6,1075.9 911.1,1077.7 913.6,1081.8 916.1,1083.9 918.6,1090.7 921.1,1093.3 923.6,1093.8 926.1,1094.6 928.6,1094.6 931.1,1096.5 933.6,1098.9 936.1,1100.4 938.7,1101.1 941.2,1100.2 943.7,1104.1 946.2,1102.1 948.7,1102.2 951.2,1101.1 953.7,1098.7 956.2,1098.9 958.7,1100.0 961.2,1097.4 963.7,1095.3 966.2,1093.7 968.7,1094.8 971.2,1096.4 973.7,1094.0 976.2,1096.9 978.7,1097.7 981.2,1097.4 983.7,1099.3 986.2,1100.7 988.7,1098.7 991.2,1101.5 993.7,1100.6 996.2,1100.6 998.7,1102.3 1001.2,1101.2 1003.7,1104.7 1006.2,1101.3 1008.8,1102.8 1011.3,1100.9 1013.8,1101.0 1016.3,1100.6 1018.8,1101.1 1021.3,1101.2 1023.8,1103.4 1026.3,1103.2 1028.8,1103.8 1031.3,1105.8 1033.8,1107.8 1036.3,1106.1 1038.8,1104.6 1041.3,1107.1 1043.8,1106.0 1046.3,1104.3 1048.8,1104.6 1051.3,1106.7 1053.8,1106.6 1056.3,1106.1 1058.8,1107.4 1061.3,1105.7 1063.8,1110.2 1066.3,1108.2 1068.8,1109.9 1071.3,1107.6 1073.8,1108.2 1076.3,1108.1 1078.9,1108.3 1081.4,1108.2 1083.9,1106.2 1086.4,1107.0 1088.9,1105.5 1091.4,1107.7 1093.9,1104.7 1096.4,1103.7 1098.9,1104.3 1101.4,1103.6 1103.9,1103.2 1106.4,1101.3 1108.9,1100.7 1111.4,1098.2 1113.9,1096.7 1116.4,1096.3 1118.9,1095.1 1121.4,1095.6 1123.9,1093.0 1126.4,1092.1 1128.9,1089.9 1131.4,1088.0 1133.9,1089.8 1136.4,1089.9 1138.9,1087.8 1141.4,1087.5 1143.9,1087.4 1146.4,1088.8 1149.0,1088.9 1151.5,1089.2 1154.0,1088.5 1156.5,1087.7 1159.0,1089.0 1161.5,1091.5 1164.0,1092.0 1166.5,1092.7 1169.0,1092.2 1171.5,1091.2 1174.0,1093.0 1176.5,1091.5 1179.0,1094.1 1181.5,1093.9 1184.0,1094.2 1184.0,1107.7 1181.5,1108.2 1179.0,1107.1 1176.5,1106.1 1174.0,1106.4 1171.5,1105.5 1169.0,1106.7 1166.5,1106.5 1164.0,1105.5 1161.5,1104.7 1159.0,1103.5 1156.5,1103.0 1154.0,1101.7 1151.5,1101.4 1149.0,1101.1 1146.4,1102.1 1143.9,1100.9 1141.4,1101.3 1138.9,1101.2 1136.4,1102.4 1133.9,1103.4 1131.4,1102.9 1128.9,1104.6 1126.4,1107.1 1123.9,1108.2 1121.4,1110.4 1118.9,1109.5 1116.4,1111.3 1113.9,1112.1 1111.4,1113.9 1108.9,1115.6 1106.4,1114.3 1103.9,1116.9 1101.4,1116.4 1098.9,1119.1 1096.4,1118.0 1093.9,1119.3 1091.4,1120.1 1088.9,1118.8 1086.4,1121.0 1083.9,1121.0 1081.4,1121.2 1078.9,1119.9 1076.3,1119.9 1073.8,1123.3 1071.3,1120.8 1068.8,1123.2 1066.3,1121.0 1063.8,1122.7 1061.3,1120.9 1058.8,1119.4 1056.3,1121.8 1053.8,1121.1 1051.3,1119.3 1048.8,1120.4 1046.3,1119.5 1043.8,1119.3 1041.3,1120.1 1038.8,1119.3 1036.3,1118.2 1033.8,1120.3 1031.3,1120.6 1028.8,1118.0 1026.3,1118.3 1023.8,1116.3 1021.3,1114.7 1018.8,1114.3 1016.3,1115.2 1013.8,1114.4 1011.3,1113.3 1008.8,1114.7 1006.2,1115.1 1003.7,1117.9 1001.2,1116.7 998.7,1115.6 996.2,1114.4 993.7,1115.6 991.2,1115.6 988.7,1112.5 986.2,1113.2 983.7,1111.6 981.2,1111.7 978.7,1110.3 976.2,1110.6 973.7,1109.6 971.2,1109.6 968.7,1108.4 966.2,1109.2 963.7,1111.0 961.2,1109.6 958.7,1113.7 956.2,1112.5 953.7,1113.7 951.2,1113.4 948.7,1114.6 946.2,1117.5 943.7,1116.2 941.2,1116.3 938.7,1115.6 936.1,1114.3 933.6,1112.1 931.1,1111.1 928.6,1109.3 926.1,1108.7 923.6,1106.7 921.1,1107.6 918.6,1106.2 916.1,1105.2 913.6,1103.4 911.1,1099.9 908.6,1097.9 906.1,1093.3 903.6,1090.4 901.1,1087.4 898.6,1080.8 896.1,1083.8 893.6,1086.4 891.1,1089.8 888.6,1090.7 886.1,1094.9 883.6,1095.8 881.1,1096.9 878.6,1093.7 876.1,1088.1 873.6,1085.3 871.1,1080.9 868.6,1073.8 866.0,1071.7 863.5,1065.3 861.0,1059.7 858.5,1063.2 856.0,1065.4 853.5,1068.5 851.0,1073.1 848.5,1076.2 846.0,1077.1 843.5,1079.0 841.0,1069.6 838.5,1058.1 836.0,1047.7 833.5,1036.6 831.0,1020.8 830.0,1008.7 826.2,1007.5 822.4,1006.3 818.7,1008.5 814.9,1006.3 811.1,1009.0 807.3,1009.0 803.5,1003.9 799.8,1007.8 796.0,1005.5 792.2,1011.1 788.4,1010.6 784.6,1006.8 780.9,1008.7 777.1,1005.6 773.3,1005.8 769.5,1009.5 765.8,1011.2 762.0,1006.2 758.2,1010.1 754.4,1007.4 750.6,1004.6 746.9,1005.6 743.1,1006.6 739.3,1008.5 735.5,1008.8 731.7,1010.5 728.0,1010.0 724.2,1008.3 720.4,1009.8 716.6,1007.7 712.8,1007.1 709.1,1005.3 705.3,1008.7 701.5,1004.6 697.7,1009.9 693.9,1008.0 690.2,1008.6 686.4,1010.7 682.6,1006.0 678.8,1006.2 675.0,1007.5 671.3,1009.8 667.5,1009.4 663.7,1009.8 659.9,1008.6 656.1,1006.8 652.4,1008.7 648.6,1007.0 644.8,1007.0 641.0,1007.5 637.2,1009.1 633.5,1010.7 629.7,1007.5 625.9,1008.9 622.1,1007.7 618.4,1005.1 614.6,1009.1 610.8,1008.9 607.0,1007.3 603.2,1009.6 599.5,1008.3 595.7,1007.9 591.9,1004.5 588.1,1009.3 584.3,1006.9 580.6,1005.1 576.8,1007.7 573.0,1009.0 569.2,1005.6 565.4,1008.8 561.7,1008.8 557.9,1007.4 554.1,1008.6 550.3,1008.1 546.5,1007.5 542.8,1009.5 539.0,1010.0 535.2,1004.8 531.4,1005.0 527.6,1009.8 523.9,1008.4 520.1,1008.6 516.3,1006.6 512.5,1004.7 508.8,1006.2 505.0,1005.9 501.2,1006.9 497.4,1010.3 493.6,1009.4 489.9,1006.7 486.1,1005.0 482.3,1007.9 478.5,1006.1 474.7,1006.6 471.0,1008.9 467.2,1011.2 463.4,1005.9 459.6,1003.6 455.8,1008.0 452.1,1006.9 448.3,1007.7 444.5,1007.7 440.7,1008.1 436.9,1007.9 433.2,1010.9 429.4,1006.4 425.6,1008.0 421.8,1006.9 418.0,1009.0 414.3,1008.7 410.5,1006.3 406.7,1006.2 402.9,1009.9 399.1,1008.4 395.4,1010.2 391.6,1009.0 387.8,1009.4 384.0,1006.1 380.2,1007.4 376.5,1007.6 372.7,1011.4 368.9,1008.7 365.1,1005.0 361.4,1005.8 357.6,1007.4 353.8,1007.0 350.0,1008.2 346.2,1009.3 342.5,1007.9 338.7,1006.8 334.9,1006.4 331.1,1011.9 327.3,1010.7 323.6,1008.3 319.8,1007.0 316.0,1008.6" fill="#f45af4" />
<line x1="1184.0" y1="969" x2="1184.0" y2="1012" stroke="#f45af4" stroke-width="3.5"/>
<polygon points="1183.0,990.0 1186.8,992.9 1190.5,991.4 1194.3,989.8 1198.0,989.7 1201.8,988.3 1205.6,990.7 1209.3,989.6 1213.1,989.1 1216.8,987.9 1220.6,992.6 1224.4,991.0 1228.1,989.5 1231.9,987.2 1235.6,987.4 1239.4,991.5 1243.1,991.5 1246.9,990.9 1250.7,992.1 1254.4,988.8 1258.2,986.1 1261.9,989.9 1265.7,990.5 1269.5,988.3 1273.2,990.7 1277.0,987.1 1280.7,987.5 1284.5,991.9 1288.3,989.7 1292.0,990.3 1295.8,991.6 1299.5,987.8 1303.3,988.6 1307.1,987.0 1310.8,987.1 1314.6,988.8 1318.3,988.5 1322.1,988.0 1325.9,989.5 1329.6,990.5 1333.4,989.3 1337.1,987.1 1340.9,990.6 1344.6,989.7 1348.4,990.0 1352.2,988.3 1355.9,987.6 1359.7,986.6 1363.4,989.6 1367.2,989.6 1371.0,988.8 1374.7,992.3 1378.5,987.0 1382.2,986.9 1386.0,989.8 1389.8,989.6 1393.5,988.1 1397.3,992.3 1401.0,990.8 1404.8,989.0 1408.6,989.6 1412.3,992.8 1416.1,991.9 1419.8,990.2 1423.6,991.1 1427.4,990.4 1431.1,989.6 1434.9,992.5 1438.6,989.6 1442.4,987.0 1446.1,989.4 1449.9,987.7 1453.7,989.8 1457.4,989.5 1461.2,989.2 1464.9,991.1 1468.7,988.8 1472.5,988.4 1476.2,989.6 1480.0,990.8 1483.7,990.6 1487.5,990.0 1491.3,989.6 1495.0,989.2 1498.8,992.2 1502.5,988.6 1506.3,988.8 1510.1,991.2 1513.8,989.8 1517.6,988.7 1521.3,993.1 1525.1,992.3 1528.9,987.5 1532.6,989.5 1536.4,986.8 1540.1,990.6 1543.9,987.8 1547.6,990.7 1551.4,989.2 1555.2,986.6 1558.9,988.1 1562.7,989.7 1566.4,990.6 1570.2,989.8 1574.0,987.2 1577.7,989.8 1581.5,991.1 1585.2,988.8 1589.0,986.2 1592.8,992.1 1596.5,992.4 1600.3,990.9 1604.0,990.6 1607.8,987.2 1611.6,990.6 1615.3,989.1 1619.1,987.4 1622.8,990.6 1626.6,990.1 1630.4,990.8 1634.1,987.1 1637.9,988.1 1641.6,990.6 1645.4,989.6 1649.1,987.6 1652.9,986.3 1656.7,992.6 1660.4,989.3 1664.2,987.7 1667.9,986.4 1671.7,988.3 1675.5,989.8 1679.2,989.7 1683.0,989.1 1686.7,992.0 1690.5,990.1 1694.3,992.8 1698.0,991.7 1701.8,989.5 1705.5,987.9 1709.3,991.8 1713.1,992.3 1716.8,991.8 1720.6,991.0 1724.3,986.8 1728.1,989.0 1731.9,991.7 1735.6,988.3 1739.4,992.4 1743.1,990.6 1746.9,990.3 1750.6,989.5 1754.4,991.6 1758.2,991.9 1761.9,988.8 1765.7,989.8 1769.4,992.6 1773.2,990.5 1777.0,988.9 1780.7,990.2 1784.5,989.2 1788.2,992.2 1792.0,989.5 1795.8,990.8 1799.5,986.3 1803.3,988.9 1807.0,988.6 1810.8,989.9 1814.6,990.0 1818.3,987.7 1822.1,989.6 1825.8,989.2 1829.6,989.0 1833.4,990.4 1837.1,992.9 1840.9,990.0 1844.6,991.3 1848.4,990.8 1852.1,989.5 1855.9,989.4 1859.7,990.4 1863.4,991.2 1867.2,990.9 1870.9,987.3 1874.7,989.2 1878.5,988.3 1882.2,990.3 1886.0,989.1 1889.7,988.1 1893.5,988.8 1897.3,992.4 1901.0,990.0 1904.8,989.2 1908.5,988.9 1912.3,991.6 1916.1,988.6 1919.8,990.5 1923.6,988.7 1927.3,988.8 1931.1,986.7 1934.9,992.6 1938.6,990.0 1942.4,987.9 1946.1,991.6 1949.9,990.0 1953.6,992.5 1957.4,991.8 1961.2,990.2 1964.9,990.0 1968.7,991.0 1972.4,991.0 1976.2,988.7 1980.0,987.4 1983.7,988.9 1987.5,990.7 1991.2,988.8 1995.0,989.3 1998.8,989.3 2002.5,986.9 2006.3,987.6 2010.0,989.8 2013.8,991.1 2017.6,991.6 2021.3,988.5 2025.1,990.0 2028.8,990.5 2032.6,991.3 2036.4,989.0 2040.1,987.4 2043.9,989.6 2047.6,989.7 2051.4,987.9 2055.1,991.1 2058.9,986.6 2062.7,987.1 2066.4,989.1 2070.2,988.6 2073.9,988.3 2077.7,990.8 2081.5,990.1 2085.2,988.4 2089.0,989.8 2092.7,990.1 2096.5,987.8 2100.3,991.8 2104.0,987.8 2107.8,990.8 2111.5,989.2 2115.3,991.6 2119.1,992.0 2122.8,990.4 2126.6,992.5 2130.3,989.5 2134.1,988.7 2137.9,989.2 2141.6,991.2 2145.4,987.2 2149.1,989.2 2152.9,990.5 2156.6,987.6 2160.4,988.0 2164.2,991.0 2167.9,986.0 2171.7,991.4 2175.4,989.7 2179.2,989.9 2183.0,990.3 2186.7,990.6 2190.5,991.5 2194.2,988.1 2198.0,991.2 2198.0,1007.2 2194.2,1006.0 2190.5,1005.8 2186.7,1007.2 2183.0,1007.6 2179.2,1009.3 2175.4,1008.1 2171.7,1008.0 2167.9,1004.7 2164.2,1006.4 2160.4,1006.3 2156.6,1008.4 2152.9,1008.8 2149.1,1008.6 2145.4,1005.8 2141.6,1007.8 2137.9,1007.0 2134.1,1007.8 2130.3,1004.6 2126.6,1011.1 2122.8,1006.8 2119.1,1008.8 2115.3,1008.5 2111.5,1008.7 2107.8,1007.2 2104.0,1007.0 2100.3,1010.6 2096.5,1007.7 2092.7,1006.3 2089.0,1005.7 2085.2,1006.6 2081.5,1004.9 2077.7,1007.8 2073.9,1006.8 2070.2,1006.8 2066.4,1006.7 2062.7,1006.1 2058.9,1008.1 2055.1,1011.1 2051.4,1005.2 2047.6,1010.4 2043.9,1006.4 2040.1,1009.0 2036.4,1006.1 2032.6,1006.1 2028.8,1009.5 2025.1,1006.4 2021.3,1006.4 2017.6,1008.4 2013.8,1009.2 2010.0,1007.9 2006.3,1007.6 2002.5,1007.2 1998.8,1011.1 1995.0,1008.5 1991.2,1008.0 1987.5,1009.5 1983.7,1008.5 1980.0,1005.3 1976.2,1008.5 1972.4,1006.8 1968.7,1008.8 1964.9,1009.7 1961.2,1009.6 1957.4,1008.7 1953.6,1007.9 1949.9,1007.6 1946.1,1009.3 1942.4,1007.9 1938.6,1007.3 1934.9,1010.8 1931.1,1006.8 1927.3,1009.9 1923.6,1008.6 1919.8,1010.3 1916.1,1007.9 1912.3,1005.8 1908.5,1009.7 1904.8,1008.1 1901.0,1006.5 1897.3,1009.9 1893.5,1006.6 1889.7,1008.1 1886.0,1008.5 1882.2,1008.1 1878.5,1006.4 1874.7,1009.7 1870.9,1006.8 1867.2,1007.5 1863.4,1008.8 1859.7,1006.7 1855.9,1008.3 1852.1,1008.8 1848.4,1007.0 1844.6,1010.2 1840.9,1007.2 1837.1,1010.2 1833.4,1006.3 1829.6,1006.8 1825.8,1008.8 1822.1,1008.4 1818.3,1005.7 1814.6,1007.9 1810.8,1010.3 1807.0,1008.8 1803.3,1006.9 1799.5,1004.7 1795.8,1010.5 1792.0,1006.2 1788.2,1007.8 1784.5,1003.7 1780.7,1011.0 1777.0,1006.3 1773.2,1010.4 1769.4,1007.4 1765.7,1005.1 1761.9,1006.9 1758.2,1007.6 1754.4,1007.2 1750.6,1007.0 1746.9,1009.4 1743.1,1009.3 1739.4,1010.4 1735.6,1008.2 1731.9,1006.6 1728.1,1008.0 1724.3,1004.9 1720.6,1011.1 1716.8,1006.3 1713.1,1008.2 1709.3,1009.2 1705.5,1007.8 1701.8,1009.4 1698.0,1009.7 1694.3,1011.6 1690.5,1010.2 1686.7,1010.3 1683.0,1007.7 1679.2,1008.1 1675.5,1008.4 1671.7,1005.7 1667.9,1005.5 1664.2,1003.7 1660.4,1008.8 1656.7,1010.5 1652.9,1006.1 1649.1,1007.8 1645.4,1007.2 1641.6,1008.0 1637.9,1009.5 1634.1,1008.0 1630.4,1009.4 1626.6,1006.2 1622.8,1006.2 1619.1,1008.0 1615.3,1008.1 1611.6,1008.9 1607.8,1004.9 1604.0,1007.6 1600.3,1009.3 1596.5,1008.2 1592.8,1009.7 1589.0,1006.7 1585.2,1005.4 1581.5,1006.9 1577.7,1006.1 1574.0,1006.4 1570.2,1009.2 1566.4,1007.3 1562.7,1005.1 1558.9,1006.7 1555.2,1007.3 1551.4,1009.6 1547.6,1008.5 1543.9,1005.4 1540.1,1007.7 1536.4,1006.9 1532.6,1005.6 1528.9,1006.1 1525.1,1010.7 1521.3,1011.3 1517.6,1008.1 1513.8,1008.9 1510.1,1008.2 1506.3,1007.1 1502.5,1008.5 1498.8,1010.3 1495.0,1006.4 1491.3,1009.8 1487.5,1008.3 1483.7,1008.1 1480.0,1010.9 1476.2,1011.0 1472.5,1009.3 1468.7,1010.6 1464.9,1006.3 1461.2,1008.4 1457.4,1005.8 1453.7,1007.0 1449.9,1006.6 1446.1,1007.2 1442.4,1006.6 1438.6,1008.5 1434.9,1008.9 1431.1,1008.0 1427.4,1010.7 1423.6,1006.6 1419.8,1007.9 1416.1,1007.6 1412.3,1008.6 1408.6,1009.6 1404.8,1006.3 1401.0,1009.3 1397.3,1010.8 1393.5,1006.4 1389.8,1004.7 1386.0,1008.4 1382.2,1004.1 1378.5,1005.5 1374.7,1006.9 1371.0,1008.5 1367.2,1007.9 1363.4,1007.3 1359.7,1004.8 1355.9,1007.4 1352.2,1006.6 1348.4,1005.5 1344.6,1006.5 1340.9,1010.5 1337.1,1006.2 1333.4,1006.0 1329.6,1008.8 1325.9,1008.2 1322.1,1006.9 1318.3,1004.5 1314.6,1007.0 1310.8,1006.3 1307.1,1008.9 1303.3,1008.9 1299.5,1004.4 1295.8,1010.3 1292.0,1007.7 1288.3,1009.9 1284.5,1008.9 1280.7,1005.2 1277.0,1005.7 1273.2,1006.3 1269.5,1007.0 1265.7,1007.9 1261.9,1008.2 1258.2,1006.6 1254.4,1009.1 1250.7,1010.3 1246.9,1005.7 1243.1,1007.2 1239.4,1006.8 1235.6,1005.2 1231.9,1006.8 1228.1,1006.9 1224.4,1010.3 1220.6,1007.1 1216.8,1008.7 1213.1,1008.1 1209.3,1011.5 1205.6,1010.4 1201.8,1008.4 1198.0,1008.6 1194.3,1008.4 1190.5,1010.4 1186.8,1009.4 1183.0,1008.2" fill="#f45af4" />
<polygon points="316.0,1401.9 319.8,1402.2 323.6,1402.3 327.3,1388.9 331.1,1389.0 334.9,1389.4 338.7,1402.8 342.5,1402.1 346.2,1400.8 350.0,1401.1 353.8,1400.3 357.6,1400.6 361.4,1397.5 365.1,1404.6 368.9,1403.6 372.7,1399.9 376.5,1406.2 380.2,1397.7 384.0,1398.2 387.8,1408.8 391.6,1409.5 395.4,1408.8 399.1,1408.8 402.9,1408.9 406.7,1409.2 410.5,1407.5 414.3,1409.5 418.0,1387.5 421.8,1406.3 425.6,1405.9 429.4,1404.5 433.2,1405.4 436.9,1408.8 440.7,1408.0 444.5,1409.3 448.3,1409.8 452.1,1404.0 455.8,1405.7 459.6,1410.1 463.4,1406.7 467.2,1407.8 471.0,1408.8 474.7,1407.7 478.5,1407.0 482.3,1407.9 486.1,1408.1 489.9,1400.5 493.6,1403.8 497.4,1405.6 501.2,1408.9 505.0,1389.0 508.8,1387.9 512.5,1410.0 516.3,1407.6 520.1,1410.7 523.9,1411.2 527.6,1411.3 531.4,1399.9 535.2,1396.7 539.0,1406.6 542.8,1405.6 546.5,1408.0 550.3,1406.7 554.1,1407.4 557.9,1406.0 561.7,1406.8 565.4,1405.0 569.2,1405.1 573.0,1406.4 576.8,1405.3 580.6,1405.4 584.3,1405.6 588.1,1389.6 591.9,1388.7 595.7,1389.9 599.5,1404.1 603.2,1411.5 607.0,1409.7 610.8,1409.5 614.6,1409.6 618.4,1408.0 622.1,1401.1 625.9,1400.6 629.7,1402.0 633.5,1407.7 637.2,1390.2 641.0,1403.8 644.8,1408.3 648.6,1403.0 652.4,1402.4 656.1,1394.6 659.9,1395.4 663.7,1404.0 667.5,1406.1 671.3,1405.4 675.0,1405.2 678.8,1388.1 682.6,1389.8 686.4,1411.3 690.2,1410.0 693.9,1404.4 697.7,1404.7 701.5,1408.3 705.3,1393.3 709.1,1392.7 712.8,1392.6 716.6,1401.5 720.4,1399.2 724.2,1408.8 728.0,1407.3 731.7,1407.1 735.5,1408.3 739.3,1407.6 743.1,1408.6 746.9,1409.0 750.6,1408.9 754.4,1387.9 758.2,1390.4 762.0,1389.8 765.8,1395.1 769.5,1409.2 773.3,1408.0 777.1,1410.1 780.9,1408.0 784.6,1404.8 788.4,1403.7 792.2,1406.0 796.0,1407.4 799.8,1401.6 803.5,1401.9 807.3,1403.3 811.1,1401.8 814.9,1406.3 818.7,1404.8 822.4,1408.3 826.2,1407.6 830.0,1405.6 830.0,1468.4 826.2,1467.1 822.4,1462.4 818.7,1468.7 814.9,1469.5 811.1,1470.8 807.3,1470.8 803.5,1469.1 799.8,1457.7 796.0,1460.6 792.2,1462.5 788.4,1461.6 784.6,1460.1 780.9,1473.8 777.1,1473.8 773.3,1474.6 769.5,1475.0 765.8,1458.5 762.0,1467.4 758.2,1468.7 754.4,1467.8 750.6,1462.5 746.9,1464.3 743.1,1464.8 739.3,1464.9 735.5,1473.9 731.7,1473.3 728.0,1475.0 724.2,1473.2 720.4,1468.3 716.6,1462.6 712.8,1465.1 709.1,1466.6 705.3,1466.0 701.5,1470.9 697.7,1468.0 693.9,1466.5 690.2,1462.8 686.4,1461.6 682.6,1468.5 678.8,1470.0 675.0,1463.0 671.3,1462.2 667.5,1462.9 663.7,1463.0 659.9,1464.4 656.1,1464.7 652.4,1458.9 648.6,1459.8 644.8,1463.2 641.0,1461.9 637.2,1463.5 633.5,1469.1 629.7,1463.0 625.9,1461.2 622.1,1462.6 618.4,1461.2 614.6,1458.3 610.8,1457.4 607.0,1457.1 603.2,1457.2 599.5,1458.6 595.7,1470.9 591.9,1470.5 588.1,1468.4 584.3,1466.9 580.6,1464.9 576.8,1466.6 573.0,1458.4 569.2,1461.3 565.4,1459.6 561.7,1461.3 557.9,1463.3 554.1,1465.4 550.3,1465.6 546.5,1465.2 542.8,1465.4 539.0,1463.1 535.2,1463.1 531.4,1461.9 527.6,1470.8 523.9,1459.5 520.1,1461.1 516.3,1472.7 512.5,1460.0 508.8,1463.6 505.0,1464.3 501.2,1474.3 497.4,1467.4 493.6,1468.5 489.9,1470.2 486.1,1468.6 482.3,1470.9 478.5,1465.0 474.7,1465.0 471.0,1468.5 467.2,1463.1 463.4,1462.1 459.6,1475.6 455.8,1464.2 452.1,1464.5 448.3,1461.9 444.5,1461.8 440.7,1461.3 436.9,1461.1 433.2,1469.5 429.4,1470.7 425.6,1470.4 421.8,1470.1 418.0,1462.8 414.3,1461.2 410.5,1460.5 406.7,1459.6 402.9,1457.6 399.1,1459.6 395.4,1458.0 391.6,1468.5 387.8,1468.2 384.0,1469.6 380.2,1469.2 376.5,1469.7 372.7,1469.6 368.9,1461.8 365.1,1458.4 361.4,1462.8 357.6,1463.1 353.8,1464.3 350.0,1464.1 346.2,1465.8 342.5,1472.3 338.7,1471.4 334.9,1457.2 331.1,1457.9 327.3,1459.7 323.6,1462.3 319.8,1460.9 316.0,1462.2" fill="#f60000" />
<line x1="332.1" y1="1391.0" x2="332.1" y2="1456.5" stroke="#fff" stroke-opacity="0.65" stroke-width="3.0"/>
<line x1="339.4" y1="1405.0" x2="339.4" y2="1470.5" stroke="#fff" stroke-opacity="0.69" stroke-width="2.8"/>
<line x1="352.9" y1="1403.0" x2="352.9" y2="1462.5" stroke="#fff" stroke-opacity="0.82" stroke-width="2.9"/>
<line x1="372.1" y1="1403.0" x2="372.1" y2="1467.5" stroke="#fff" stroke-opacity="0.57" stroke-width="2.8"/>
<line x1="388.3" y1="1410.0" x2="388.3" y2="1467.5" stroke="#fff" stroke-opacity="0.62" stroke-width="2.0"/>
<line x1="418.3" y1="1391.0" x2="418.3" y2="1459.5" stroke="#fff" stroke-opacity="0.69" stroke-width="2.2"/>
<line x1="432.8" y1="1407.0" x2="432.8" y2="1467.5" stroke="#fff" stroke-opacity="0.64" stroke-width="2.2"/>
<line x1="445.1" y1="1411.0" x2="445.1" y2="1460.5" stroke="#fff" stroke-opacity="0.65" stroke-width="2.5"/>
<line x1="448.3" y1="1411.0" x2="448.3" y2="1460.5" stroke="#fff" stroke-opacity="0.53" stroke-width="2.4"/>
<line x1="455.9" y1="1407.0" x2="455.9" y2="1461.5" stroke="#fff" stroke-opacity="0.88" stroke-width="3.3"/>
<line x1="462.4" y1="1410.0" x2="462.4" y2="1461.5" stroke="#fff" stroke-opacity="0.59" stroke-width="2.5"/>
<line x1="470.4" y1="1412.0" x2="470.4" y2="1465.5" stroke="#fff" stroke-opacity="0.64" stroke-width="3.3"/>
<line x1="478.4" y1="1409.0" x2="478.4" y2="1462.5" stroke="#fff" stroke-opacity="0.62" stroke-width="3.3"/>
<line x1="486.5" y1="1409.0" x2="486.5" y2="1467.5" stroke="#fff" stroke-opacity="0.66" stroke-width="2.1"/>
<line x1="515.6" y1="1409.0" x2="515.6" y2="1470.5" stroke="#fff" stroke-opacity="0.69" stroke-width="3.2"/>
<line x1="524.6" y1="1412.0" x2="524.6" y2="1458.5" stroke="#fff" stroke-opacity="0.72" stroke-width="2.1"/>
<line x1="538.4" y1="1410.0" x2="538.4" y2="1461.5" stroke="#fff" stroke-opacity="0.88" stroke-width="2.6"/>
<line x1="547.2" y1="1409.0" x2="547.2" y2="1462.5" stroke="#fff" stroke-opacity="0.90" stroke-width="3.1"/>
<line x1="558.7" y1="1408.0" x2="558.7" y2="1460.5" stroke="#fff" stroke-opacity="0.51" stroke-width="2.6"/>
<line x1="565.1" y1="1408.0" x2="565.1" y2="1458.5" stroke="#fff" stroke-opacity="0.74" stroke-width="3.0"/>
<line x1="569.3" y1="1408.0" x2="569.3" y2="1458.5" stroke="#fff" stroke-opacity="0.82" stroke-width="3.2"/>
<line x1="576.1" y1="1407.0" x2="576.1" y2="1463.5" stroke="#fff" stroke-opacity="0.84" stroke-width="2.4"/>
<line x1="602.8" y1="1412.0" x2="602.8" y2="1456.5" stroke="#fff" stroke-opacity="0.58" stroke-width="2.9"/>
<line x1="607.2" y1="1412.0" x2="607.2" y2="1456.5" stroke="#fff" stroke-opacity="0.67" stroke-width="2.4"/>
<line x1="611.2" y1="1412.0" x2="611.2" y2="1456.5" stroke="#fff" stroke-opacity="0.84" stroke-width="2.5"/>
<line x1="630.3" y1="1403.0" x2="630.3" y2="1460.5" stroke="#fff" stroke-opacity="0.85" stroke-width="2.3"/>
<line x1="634.5" y1="1410.0" x2="634.5" y2="1467.5" stroke="#fff" stroke-opacity="0.83" stroke-width="3.2"/>
<line x1="636.3" y1="1391.0" x2="636.3" y2="1461.5" stroke="#fff" stroke-opacity="0.51" stroke-width="2.9"/>
<line x1="645.0" y1="1411.0" x2="645.0" y2="1462.5" stroke="#fff" stroke-opacity="0.61" stroke-width="2.6"/>
<line x1="663.8" y1="1407.0" x2="663.8" y2="1461.5" stroke="#fff" stroke-opacity="0.72" stroke-width="3.0"/>
<line x1="667.7" y1="1407.0" x2="667.7" y2="1461.5" stroke="#fff" stroke-opacity="0.84" stroke-width="3.0"/>
<line x1="674.8" y1="1407.0" x2="674.8" y2="1461.5" stroke="#fff" stroke-opacity="0.85" stroke-width="2.9"/>
<line x1="678.3" y1="1391.0" x2="678.3" y2="1467.5" stroke="#fff" stroke-opacity="0.67" stroke-width="3.2"/>
<line x1="681.8" y1="1391.0" x2="681.8" y2="1467.5" stroke="#fff" stroke-opacity="0.63" stroke-width="2.9"/>
<line x1="693.2" y1="1406.0" x2="693.2" y2="1465.5" stroke="#fff" stroke-opacity="0.56" stroke-width="2.0"/>
<line x1="697.3" y1="1406.0" x2="697.3" y2="1465.5" stroke="#fff" stroke-opacity="0.58" stroke-width="2.6"/>
<line x1="704.5" y1="1396.0" x2="704.5" y2="1463.5" stroke="#fff" stroke-opacity="0.58" stroke-width="2.4"/>
<line x1="721.2" y1="1400.0" x2="721.2" y2="1467.5" stroke="#fff" stroke-opacity="0.64" stroke-width="2.9"/>
<line x1="724.2" y1="1410.0" x2="724.2" y2="1472.5" stroke="#fff" stroke-opacity="0.51" stroke-width="2.7"/>
<line x1="739.7" y1="1411.0" x2="739.7" y2="1461.5" stroke="#fff" stroke-opacity="0.76" stroke-width="2.9"/>
<line x1="768.6" y1="1411.0" x2="768.6" y2="1472.5" stroke="#fff" stroke-opacity="0.52" stroke-width="3.1"/>
<line x1="776.9" y1="1411.0" x2="776.9" y2="1472.5" stroke="#fff" stroke-opacity="0.57" stroke-width="2.3"/>
<line x1="785.4" y1="1407.0" x2="785.4" y2="1459.5" stroke="#fff" stroke-opacity="0.86" stroke-width="2.6"/>
<line x1="788.8" y1="1407.0" x2="788.8" y2="1459.5" stroke="#fff" stroke-opacity="0.60" stroke-width="2.2"/>
<line x1="796.4" y1="1408.0" x2="796.4" y2="1459.5" stroke="#fff" stroke-opacity="0.66" stroke-width="3.0"/>
<line x1="806.9" y1="1405.0" x2="806.9" y2="1467.5" stroke="#fff" stroke-opacity="0.70" stroke-width="2.5"/>
<polyline points="830.0,1466 830.5,1500 830.5,1495.0 834.5,1534.6 837.5,1521.1 842.5,1548.8 845.5,1534.2 850.5,1554.9 853.5,1533.6 857.0,1541.9 862.0,1514.0 866.0,1541.8 869.5,1530.8 874.5,1551.3 880.5,1543.6 885.0,1558.6 889.0,1534.0 895.0,1549.7 898.0,1527.0 901.0,1547.9 904.5,1531.5 910.5,1556.0 913.5,1541.6 919.5,1571.4 925.5,1548.9 928.5,1568.6 934.5,1550.0 939.5,1569.3 944.5,1551.7 950.5,1573.2 956.5,1549.2 962.5,1564.5 967.5,1546.5 971.0,1565.8 975.5,1545.3 979.0,1571.4 985.0,1558.0 988.5,1577.1 992.5,1553.5 995.5,1573.9 998.5,1559.3 1004.5,1568.1 1009.5,1554.1 1013.0,1571.6 1016.5,1556.3 1019.5,1570.9 1022.5,1556.5 1026.5,1573.3 1029.5,1557.9 1033.0,1577.8 1039.0,1558.5 1042.5,1570.4 1047.0,1560.2 1052.0,1570.2 1056.0,1560.6 1060.0,1573.0 1064.5,1553.5 1070.5,1580.0 1076.5,1557.3 1079.5,1571.0 1082.5,1552.8 1087.5,1578.2 1091.0,1556.8 1097.0,1570.2 1101.0,1549.2 1105.5,1568.1 1110.5,1552.9 1115.0,1563.8 1121.0,1549.2 1125.0,1568.2 1128.5,1548.4 1133.0,1566.7 1137.5,1546.2 1142.0,1565.8 1147.0,1540.3 1150.5,1560.2 1155.0,1541.7 1158.0,1567.7 1161.5,1546.8 1167.5,1565.5 1170.5,1546.0 1175.0,1567.9 1178.5,1550.6 1184.5,1571.7" fill="none" stroke="#ff8a8a" stroke-width="8" stroke-linejoin="round" stroke-linecap="round"/>
<polygon points="831.0,1498.0 834.8,1516.6 838.5,1529.8 842.3,1535.4 846.1,1535.9 849.8,1536.7 853.6,1530.5 857.4,1524.4 861.1,1521.2 864.9,1525.2 868.7,1532.6 872.4,1536.7 876.2,1535.3 880.0,1546.9 883.7,1543.7 887.5,1533.3 891.3,1533.0 895.0,1526.6 898.8,1531.0 902.6,1533.9 906.3,1540.8 910.1,1544.5 913.9,1549.0 917.6,1555.5 921.4,1551.6 925.1,1552.0 928.9,1551.5 932.7,1552.8 936.4,1552.3 940.2,1553.8 944.0,1560.3 947.7,1559.1 951.5,1555.8 955.3,1553.6 959.0,1553.3 962.8,1554.4 966.6,1551.7 970.3,1551.9 974.1,1553.2 977.9,1551.7 981.6,1554.0 985.4,1555.2 989.2,1554.5 992.9,1561.4 996.7,1560.7 1000.5,1552.9 1004.2,1552.2 1008.0,1557.4 1011.8,1553.4 1015.5,1558.1 1019.3,1554.9 1023.1,1557.6 1026.8,1558.4 1030.6,1558.0 1034.4,1560.8 1038.1,1558.6 1041.9,1559.4 1045.7,1556.2 1049.4,1557.0 1053.2,1561.3 1057.0,1556.7 1060.7,1555.1 1064.5,1558.4 1068.3,1561.8 1072.0,1560.8 1075.8,1560.4 1079.6,1562.0 1083.3,1558.7 1087.1,1554.3 1090.9,1560.8 1094.6,1556.8 1098.4,1558.9 1102.1,1554.0 1105.9,1552.0 1109.7,1554.1 1113.4,1554.1 1117.2,1550.2 1121.0,1551.3 1124.7,1548.3 1128.5,1546.4 1132.3,1549.8 1136.0,1550.4 1139.8,1550.0 1143.6,1548.6 1147.3,1542.3 1151.1,1547.4 1154.9,1550.6 1158.6,1550.9 1162.4,1546.1 1166.2,1550.2 1169.9,1549.9 1173.7,1555.7 1177.5,1555.4 1181.2,1552.1 1185.0,1550.8 1185.0,1570.8 1181.2,1566.1 1177.5,1566.4 1173.7,1570.7 1169.9,1562.9 1166.2,1563.2 1162.4,1563.1 1158.6,1561.9 1154.9,1563.6 1151.1,1562.4 1147.3,1562.3 1143.6,1560.6 1139.8,1559.0 1136.0,1558.4 1132.3,1560.8 1128.5,1561.4 1124.7,1563.3 1121.0,1563.3 1117.2,1563.2 1113.4,1567.1 1109.7,1571.1 1105.9,1567.0 1102.1,1566.0 1098.4,1570.9 1094.6,1567.8 1090.9,1575.8 1087.1,1572.3 1083.3,1576.7 1079.6,1572.0 1075.8,1572.4 1072.0,1574.8 1068.3,1571.8 1064.5,1574.4 1060.7,1577.1 1057.0,1572.7 1053.2,1571.3 1049.4,1572.0 1045.7,1576.2 1041.9,1570.4 1038.1,1569.6 1034.4,1574.8 1030.6,1572.0 1026.8,1570.4 1023.1,1568.6 1019.3,1572.9 1015.5,1569.1 1011.8,1566.4 1008.0,1569.4 1004.2,1574.2 1000.5,1570.9 996.7,1572.7 992.9,1569.4 989.2,1569.5 985.4,1569.2 981.6,1566.0 977.9,1563.7 974.1,1566.2 970.3,1568.9 966.6,1564.7 962.8,1568.4 959.0,1569.3 955.3,1565.6 951.5,1567.8 947.7,1571.1 944.0,1570.3 940.2,1567.8 936.4,1563.3 932.7,1562.8 928.9,1562.5 925.1,1564.0 921.4,1563.6 917.6,1568.5 913.9,1566.0 910.1,1554.5 906.3,1554.8 902.6,1551.9 898.8,1542.0 895.0,1548.6 891.3,1548.0 887.5,1548.3 883.7,1558.7 880.0,1555.9 876.2,1557.3 872.4,1547.7 868.7,1540.6 864.9,1538.2 861.1,1537.2 857.4,1544.4 853.6,1544.5 849.8,1546.7 846.1,1557.9 842.3,1547.4 838.5,1539.8 834.8,1527.6 831.0,1515.0" fill="#f60000" />
<polyline points="830.0,1466 830.5,1500 830.5,1495.0 834.5,1534.6 837.5,1521.1 842.5,1548.8 845.5,1534.2 850.5,1554.9 853.5,1533.6 857.0,1541.9 862.0,1514.0 866.0,1541.8 869.5,1530.8 874.5,1551.3 880.5,1543.6 885.0,1558.6 889.0,1534.0 895.0,1549.7 898.0,1527.0 901.0,1547.9 904.5,1531.5 910.5,1556.0 913.5,1541.6 919.5,1571.4 925.5,1548.9 928.5,1568.6 934.5,1550.0 939.5,1569.3 944.5,1551.7 950.5,1573.2 956.5,1549.2 962.5,1564.5 967.5,1546.5 971.0,1565.8 975.5,1545.3 979.0,1571.4 985.0,1558.0 988.5,1577.1 992.5,1553.5 995.5,1573.9 998.5,1559.3 1004.5,1568.1 1009.5,1554.1 1013.0,1571.6 1016.5,1556.3 1019.5,1570.9 1022.5,1556.5 1026.5,1573.3 1029.5,1557.9 1033.0,1577.8 1039.0,1558.5 1042.5,1570.4 1047.0,1560.2 1052.0,1570.2 1056.0,1560.6 1060.0,1573.0 1064.5,1553.5 1070.5,1580.0 1076.5,1557.3 1079.5,1571.0 1082.5,1552.8 1087.5,1578.2 1091.0,1556.8 1097.0,1570.2 1101.0,1549.2 1105.5,1568.1 1110.5,1552.9 1115.0,1563.8 1121.0,1549.2 1125.0,1568.2 1128.5,1548.4 1133.0,1566.7 1137.5,1546.2 1142.0,1565.8 1147.0,1540.3 1150.5,1560.2 1155.0,1541.7 1158.0,1567.7 1161.5,1546.8 1167.5,1565.5 1170.5,1546.0 1175.0,1567.9 1178.5,1550.6 1184.5,1571.7" fill="none" stroke="#f60000" stroke-width="5.4" stroke-linejoin="round" stroke-linecap="round"/>
<line x1="846.7" y1="1535.9" x2="846.7" y2="1557.9" stroke="#fff" stroke-opacity="0.71" stroke-width="2.9"/>
<line x1="861.4" y1="1521.2" x2="861.4" y2="1537.2" stroke="#fff" stroke-opacity="0.87" stroke-width="2.4"/>
<line x1="879.4" y1="1546.9" x2="879.4" y2="1555.9" stroke="#fff" stroke-opacity="0.88" stroke-width="2.1"/>
<line x1="905.7" y1="1540.8" x2="905.7" y2="1554.8" stroke="#fff" stroke-opacity="0.62" stroke-width="2.3"/>
<line x1="913.1" y1="1549.0" x2="913.1" y2="1566.0" stroke="#fff" stroke-opacity="0.69" stroke-width="3.1"/>
<line x1="932.7" y1="1552.8" x2="932.7" y2="1562.8" stroke="#fff" stroke-opacity="0.85" stroke-width="2.0"/>
<line x1="944.6" y1="1560.3" x2="944.6" y2="1570.3" stroke="#fff" stroke-opacity="0.66" stroke-width="2.5"/>
<line x1="967.2" y1="1551.7" x2="967.2" y2="1564.7" stroke="#fff" stroke-opacity="0.79" stroke-width="2.2"/>
<line x1="975.0" y1="1553.2" x2="975.0" y2="1566.2" stroke="#fff" stroke-opacity="0.90" stroke-width="2.1"/>
<line x1="981.3" y1="1554.0" x2="981.3" y2="1566.0" stroke="#fff" stroke-opacity="0.84" stroke-width="2.5"/>
<line x1="992.7" y1="1561.4" x2="992.7" y2="1569.4" stroke="#fff" stroke-opacity="0.52" stroke-width="2.5"/>
<line x1="1008.6" y1="1557.4" x2="1008.6" y2="1569.4" stroke="#fff" stroke-opacity="0.76" stroke-width="3.1"/>
<line x1="1031.3" y1="1558.0" x2="1031.3" y2="1572.0" stroke="#fff" stroke-opacity="0.64" stroke-width="2.5"/>
<line x1="1061.6" y1="1555.1" x2="1061.6" y2="1577.1" stroke="#fff" stroke-opacity="0.76" stroke-width="2.6"/>
<line x1="1065.4" y1="1558.4" x2="1065.4" y2="1574.4" stroke="#fff" stroke-opacity="0.54" stroke-width="2.9"/>
<line x1="1072.8" y1="1560.8" x2="1072.8" y2="1574.8" stroke="#fff" stroke-opacity="0.76" stroke-width="2.8"/>
<line x1="1080.5" y1="1562.0" x2="1080.5" y2="1572.0" stroke="#fff" stroke-opacity="0.52" stroke-width="2.7"/>
<line x1="1105.7" y1="1552.0" x2="1105.7" y2="1567.0" stroke="#fff" stroke-opacity="0.56" stroke-width="2.7"/>
<line x1="1124.2" y1="1548.3" x2="1124.2" y2="1563.3" stroke="#fff" stroke-opacity="0.60" stroke-width="2.7"/>
<line x1="1132.1" y1="1549.8" x2="1132.1" y2="1560.8" stroke="#fff" stroke-opacity="0.77" stroke-width="2.3"/>
<line x1="1135.1" y1="1550.4" x2="1135.1" y2="1558.4" stroke="#fff" stroke-opacity="0.81" stroke-width="2.4"/>
<line x1="1142.8" y1="1548.6" x2="1142.8" y2="1560.6" stroke="#fff" stroke-opacity="0.52" stroke-width="2.7"/>
<line x1="1151.6" y1="1547.4" x2="1151.6" y2="1562.4" stroke="#fff" stroke-opacity="0.85" stroke-width="2.5"/>
<line x1="1154.4" y1="1550.6" x2="1154.4" y2="1563.6" stroke="#fff" stroke-opacity="0.60" stroke-width="2.7"/>
<line x1="1158.1" y1="1550.9" x2="1158.1" y2="1561.9" stroke="#fff" stroke-opacity="0.70" stroke-width="2.3"/>
<line x1="1181.7" y1="1552.1" x2="1181.7" y2="1566.1" stroke="#fff" stroke-opacity="0.60" stroke-width="2.7"/>
<polygon points="1183.0,1403.1 1186.8,1403.1 1190.5,1403.7 1194.3,1402.7 1198.0,1402.4 1201.8,1405.6 1205.6,1408.4 1209.3,1402.4 1213.1,1401.7 1216.8,1402.1 1220.6,1410.9 1224.4,1409.9 1228.1,1411.4 1231.9,1411.5 1235.6,1408.9 1239.4,1408.6 1243.1,1405.9 1246.9,1405.5 1250.7,1405.6 1254.4,1406.1 1258.2,1388.0 1261.9,1410.9 1265.7,1405.7 1269.5,1409.0 1273.2,1405.3 1277.0,1405.3 1280.7,1408.3 1284.5,1409.1 1288.3,1398.4 1292.0,1401.6 1295.8,1409.3 1299.5,1411.5 1303.3,1395.3 1307.1,1392.5 1310.8,1389.6 1314.6,1390.4 1318.3,1389.8 1322.1,1390.2 1325.9,1390.4 1329.6,1387.9 1333.4,1408.1 1337.1,1410.4 1340.9,1408.7 1344.6,1409.6 1348.4,1411.5 1352.2,1411.4 1355.9,1409.0 1359.7,1407.1 1363.4,1408.3 1367.2,1407.9 1371.0,1406.7 1374.7,1403.6 1378.5,1402.6 1382.2,1404.4 1386.0,1406.5 1389.8,1404.5 1393.5,1406.4 1397.3,1405.7 1401.0,1408.1 1404.8,1409.9 1408.6,1403.3 1412.3,1405.0 1416.1,1396.7 1419.8,1397.2 1423.6,1397.4 1427.4,1397.3 1431.1,1403.2 1434.9,1403.2 1438.6,1409.3 1442.4,1404.6 1446.1,1405.1 1449.9,1404.5 1453.7,1402.1 1457.4,1394.2 1461.2,1392.7 1464.9,1393.1 1468.7,1403.1 1472.5,1402.4 1476.2,1399.3 1480.0,1404.5 1483.7,1397.2 1487.5,1389.8 1491.3,1388.1 1495.0,1390.1 1498.8,1389.3 1502.5,1388.2 1506.3,1408.1 1510.1,1408.0 1513.8,1394.4 1517.6,1393.9 1521.3,1388.2 1525.1,1390.5 1528.9,1406.3 1532.6,1396.8 1536.4,1409.5 1540.1,1388.2 1543.9,1390.1 1547.6,1389.9 1551.4,1393.5 1555.2,1404.6 1558.9,1404.2 1562.7,1408.3 1566.4,1408.2 1570.2,1403.8 1574.0,1410.5 1577.7,1411.4 1581.5,1410.1 1585.2,1408.6 1589.0,1404.7 1592.8,1406.7 1596.5,1405.8 1600.3,1404.0 1604.0,1402.4 1607.8,1403.4 1611.6,1405.8 1615.3,1405.3 1619.1,1406.0 1622.8,1400.3 1626.6,1402.2 1630.4,1402.2 1634.1,1405.9 1637.9,1408.5 1641.6,1409.6 1645.4,1407.1 1649.1,1406.5 1652.9,1401.1 1656.7,1401.2 1660.4,1403.5 1664.2,1407.8 1667.9,1387.7 1671.7,1390.4 1675.5,1389.2 1679.2,1394.4 1683.0,1406.6 1686.7,1407.8 1690.5,1406.4 1694.3,1406.3 1698.0,1405.3 1701.8,1405.4 1705.5,1411.0 1709.3,1410.8 1713.1,1404.9 1716.8,1409.4 1720.6,1409.3 1724.3,1406.0 1728.1,1400.7 1731.9,1405.9 1735.6,1404.5 1739.4,1404.1 1743.1,1406.4 1746.9,1409.0 1750.6,1409.0 1754.4,1408.6 1758.2,1409.0 1761.9,1408.1 1765.7,1400.8 1769.4,1408.2 1773.2,1406.5 1777.0,1406.8 1780.7,1407.8 1784.5,1406.2 1788.2,1406.1 1792.0,1403.6 1795.8,1404.5 1799.5,1404.9 1803.3,1408.5 1807.0,1408.1 1810.8,1404.3 1814.6,1402.2 1818.3,1402.5 1822.1,1400.9 1825.8,1392.9 1829.6,1402.6 1833.4,1390.0 1837.1,1405.6 1840.9,1405.8 1844.6,1388.6 1848.4,1394.0 1852.1,1394.7 1855.9,1394.9 1859.7,1407.4 1863.4,1401.9 1867.2,1401.5 1870.9,1406.0 1874.7,1405.4 1878.5,1406.3 1882.2,1408.4 1886.0,1408.5 1889.7,1410.1 1893.5,1403.0 1897.3,1402.7 1901.0,1404.4 1904.8,1404.0 1908.5,1400.9 1912.3,1399.6 1916.1,1409.8 1919.8,1410.0 1923.6,1411.0 1927.3,1399.6 1931.1,1404.5 1934.9,1402.7 1938.6,1408.3 1942.4,1407.3 1946.1,1406.6 1949.9,1405.8 1953.6,1404.8 1957.4,1404.8 1961.2,1404.1 1964.9,1410.2 1968.7,1409.0 1972.4,1403.6 1976.2,1403.9 1980.0,1404.4 1983.7,1399.2 1987.5,1399.2 1991.2,1398.6 1995.0,1398.1 1998.8,1404.4 2002.5,1405.5 2006.3,1393.3 2010.0,1393.7 2013.8,1405.9 2017.6,1405.3 2021.3,1398.2 2025.1,1397.6 2028.8,1396.8 2032.6,1406.3 2036.4,1406.8 2040.1,1405.6 2043.9,1405.4 2047.6,1405.1 2051.4,1398.2 2055.1,1408.6 2058.9,1407.3 2062.7,1401.1 2066.4,1401.4 2070.2,1407.2 2073.9,1407.3 2077.7,1405.6 2081.5,1406.4 2085.2,1403.5 2089.0,1402.0 2092.7,1409.1 2096.5,1410.6 2100.3,1410.7 2104.0,1389.7 2107.8,1387.6 2111.5,1388.1 2115.3,1388.4 2119.1,1387.8 2122.8,1397.7 2126.6,1399.4 2130.3,1398.1 2134.1,1401.4 2137.9,1402.4 2141.6,1399.9 2145.4,1401.5 2149.1,1409.5 2152.9,1410.0 2156.6,1409.4 2160.4,1405.2 2164.2,1393.7 2167.9,1393.7 2171.7,1405.9 2175.4,1404.8 2179.2,1403.8 2183.0,1404.3 2186.7,1404.2 2190.5,1397.5 2194.2,1397.7 2198.0,1398.3 2198.0,1461.1 2194.2,1461.6 2190.5,1466.9 2186.7,1473.2 2183.0,1474.1 2179.2,1464.3 2175.4,1464.8 2171.7,1464.8 2167.9,1468.1 2164.2,1464.8 2160.4,1471.3 2156.6,1473.4 2152.9,1471.7 2149.1,1473.5 2145.4,1467.5 2141.6,1467.5 2137.9,1468.0 2134.1,1467.8 2130.3,1461.4 2126.6,1464.0 2122.8,1462.8 2119.1,1462.4 2115.3,1468.6 2111.5,1468.0 2107.8,1467.1 2104.0,1467.0 2100.3,1463.4 2096.5,1463.7 2092.7,1463.1 2089.0,1458.7 2085.2,1457.1 2081.5,1459.9 2077.7,1459.2 2073.9,1458.7 2070.2,1457.2 2066.4,1471.1 2062.7,1472.8 2058.9,1471.1 2055.1,1473.4 2051.4,1464.6 2047.6,1474.0 2043.9,1457.4 2040.1,1459.6 2036.4,1458.7 2032.6,1457.6 2028.8,1461.7 2025.1,1460.8 2021.3,1461.6 2017.6,1457.4 2013.8,1458.8 2010.0,1464.4 2006.3,1464.3 2002.5,1461.2 1998.8,1459.0 1995.0,1462.6 1991.2,1463.9 1987.5,1464.4 1983.7,1462.1 1980.0,1462.3 1976.2,1473.7 1972.4,1470.2 1968.7,1475.8 1964.9,1465.4 1961.2,1468.6 1957.4,1468.4 1953.6,1468.2 1949.9,1469.1 1946.1,1473.5 1942.4,1472.4 1938.6,1471.8 1934.9,1463.0 1931.1,1460.4 1927.3,1465.2 1923.6,1463.8 1919.8,1464.1 1916.1,1463.3 1912.3,1459.0 1908.5,1459.3 1904.8,1464.4 1901.0,1465.3 1897.3,1464.6 1893.5,1465.0 1889.7,1458.8 1886.0,1459.1 1882.2,1459.5 1878.5,1457.0 1874.7,1457.6 1870.9,1460.7 1867.2,1472.6 1863.4,1473.6 1859.7,1474.7 1855.9,1468.2 1852.1,1468.3 1848.4,1468.1 1844.6,1468.4 1840.9,1460.0 1837.1,1461.8 1833.4,1458.6 1829.6,1463.6 1825.8,1463.2 1822.1,1462.5 1818.3,1464.5 1814.6,1464.9 1810.8,1459.9 1807.0,1461.2 1803.3,1469.9 1799.5,1457.5 1795.8,1457.5 1792.0,1457.9 1788.2,1463.5 1784.5,1464.5 1780.7,1461.4 1777.0,1462.4 1773.2,1462.0 1769.4,1473.3 1765.7,1475.2 1761.9,1469.9 1758.2,1469.3 1754.4,1464.9 1750.6,1462.2 1746.9,1463.2 1743.1,1461.4 1739.4,1459.4 1735.6,1459.1 1731.9,1461.5 1728.1,1462.7 1724.3,1459.4 1720.6,1465.3 1716.8,1464.0 1713.1,1460.2 1709.3,1461.7 1705.5,1461.4 1701.8,1462.1 1698.0,1461.8 1694.3,1467.0 1690.5,1464.1 1686.7,1466.3 1683.0,1464.6 1679.2,1463.3 1675.5,1461.5 1671.7,1462.8 1667.9,1462.7 1664.2,1475.5 1660.4,1475.3 1656.7,1460.0 1652.9,1459.4 1649.1,1461.9 1645.4,1474.2 1641.6,1464.6 1637.9,1463.5 1634.1,1458.6 1630.4,1462.8 1626.6,1468.8 1622.8,1469.3 1619.1,1465.7 1615.3,1466.9 1611.6,1466.4 1607.8,1472.6 1604.0,1471.1 1600.3,1465.8 1596.5,1464.1 1592.8,1462.8 1589.0,1462.7 1585.2,1472.6 1581.5,1471.8 1577.7,1471.4 1574.0,1471.4 1570.2,1473.3 1566.4,1462.5 1562.7,1462.1 1558.9,1463.2 1555.2,1463.9 1551.4,1475.7 1547.6,1459.4 1543.9,1457.1 1540.1,1459.3 1536.4,1463.8 1532.6,1468.5 1528.9,1460.0 1525.1,1464.9 1521.3,1462.6 1517.6,1473.0 1513.8,1472.9 1510.1,1461.0 1506.3,1461.6 1502.5,1460.1 1498.8,1461.7 1495.0,1461.6 1491.3,1460.3 1487.5,1471.6 1483.7,1471.6 1480.0,1458.3 1476.2,1468.6 1472.5,1463.7 1468.7,1464.0 1464.9,1459.3 1461.2,1459.7 1457.4,1458.6 1453.7,1460.6 1449.9,1460.5 1446.1,1461.3 1442.4,1460.7 1438.6,1459.8 1434.9,1469.0 1431.1,1470.3 1427.4,1464.0 1423.6,1465.7 1419.8,1466.5 1416.1,1466.7 1412.3,1462.9 1408.6,1463.1 1404.8,1462.8 1401.0,1462.4 1397.3,1464.1 1393.5,1465.0 1389.8,1464.1 1386.0,1464.1 1382.2,1473.4 1378.5,1471.4 1374.7,1473.6 1371.0,1462.6 1367.2,1463.5 1363.4,1462.9 1359.7,1462.2 1355.9,1466.8 1352.2,1468.1 1348.4,1469.6 1344.6,1469.5 1340.9,1462.2 1337.1,1462.0 1333.4,1461.0 1329.6,1464.9 1325.9,1462.3 1322.1,1464.4 1318.3,1463.5 1314.6,1459.2 1310.8,1461.5 1307.1,1462.5 1303.3,1464.6 1299.5,1464.7 1295.8,1463.8 1292.0,1473.0 1288.3,1465.7 1284.5,1461.9 1280.7,1461.8 1277.0,1463.7 1273.2,1464.2 1269.5,1459.7 1265.7,1462.4 1261.9,1463.7 1258.2,1462.6 1254.4,1462.5 1250.7,1463.8 1246.9,1464.2 1243.1,1464.0 1239.4,1468.0 1235.6,1467.2 1231.9,1466.7 1228.1,1466.4 1224.4,1469.9 1220.6,1468.2 1216.8,1471.6 1213.1,1471.8 1209.3,1461.1 1205.6,1473.5 1201.8,1462.2 1198.0,1468.8 1194.3,1460.9 1190.5,1460.1 1186.8,1461.6 1183.0,1462.6" fill="#f60000" />
<line x1="1194.7" y1="1406.0" x2="1194.7" y2="1459.5" stroke="#fff" stroke-opacity="0.71" stroke-width="2.5"/>
<line x1="1200.9" y1="1407.0" x2="1200.9" y2="1461.5" stroke="#fff" stroke-opacity="0.78" stroke-width="2.2"/>
<line x1="1209.7" y1="1405.0" x2="1209.7" y2="1459.5" stroke="#fff" stroke-opacity="0.53" stroke-width="3.2"/>
<line x1="1217.8" y1="1403.0" x2="1217.8" y2="1470.5" stroke="#fff" stroke-opacity="0.80" stroke-width="2.8"/>
<line x1="1220.6" y1="1412.0" x2="1220.6" y2="1467.5" stroke="#fff" stroke-opacity="0.74" stroke-width="2.3"/>
<line x1="1232.5" y1="1412.0" x2="1232.5" y2="1465.5" stroke="#fff" stroke-opacity="0.56" stroke-width="2.6"/>
<line x1="1242.4" y1="1407.0" x2="1242.4" y2="1461.5" stroke="#fff" stroke-opacity="0.77" stroke-width="2.6"/>
<line x1="1251.3" y1="1407.0" x2="1251.3" y2="1461.5" stroke="#fff" stroke-opacity="0.70" stroke-width="2.1"/>
<line x1="1255.4" y1="1407.0" x2="1255.4" y2="1461.5" stroke="#fff" stroke-opacity="0.88" stroke-width="2.3"/>
<line x1="1266.7" y1="1407.0" x2="1266.7" y2="1460.5" stroke="#fff" stroke-opacity="0.66" stroke-width="3.0"/>
<line x1="1269.3" y1="1410.0" x2="1269.3" y2="1456.5" stroke="#fff" stroke-opacity="0.88" stroke-width="2.5"/>
<line x1="1273.7" y1="1407.0" x2="1273.7" y2="1461.5" stroke="#fff" stroke-opacity="0.68" stroke-width="3.1"/>
<line x1="1314.5" y1="1391.0" x2="1314.5" y2="1458.5" stroke="#fff" stroke-opacity="0.70" stroke-width="2.2"/>
<line x1="1325.2" y1="1391.0" x2="1325.2" y2="1461.5" stroke="#fff" stroke-opacity="0.59" stroke-width="2.4"/>
<line x1="1356.3" y1="1410.0" x2="1356.3" y2="1465.5" stroke="#fff" stroke-opacity="0.50" stroke-width="2.1"/>
<line x1="1359.2" y1="1409.0" x2="1359.2" y2="1460.5" stroke="#fff" stroke-opacity="0.86" stroke-width="3.1"/>
<line x1="1370.1" y1="1409.0" x2="1370.1" y2="1460.5" stroke="#fff" stroke-opacity="0.83" stroke-width="2.4"/>
<line x1="1375.5" y1="1406.0" x2="1375.5" y2="1470.5" stroke="#fff" stroke-opacity="0.64" stroke-width="3.2"/>
<line x1="1390.7" y1="1407.0" x2="1390.7" y2="1463.5" stroke="#fff" stroke-opacity="0.52" stroke-width="2.6"/>
<line x1="1400.9" y1="1409.0" x2="1400.9" y2="1461.5" stroke="#fff" stroke-opacity="0.65" stroke-width="3.0"/>
<line x1="1409.2" y1="1406.0" x2="1409.2" y2="1461.5" stroke="#fff" stroke-opacity="0.77" stroke-width="3.3"/>
<line x1="1411.6" y1="1406.0" x2="1411.6" y2="1459.5" stroke="#fff" stroke-opacity="0.89" stroke-width="2.8"/>
<line x1="1419.8" y1="1400.0" x2="1419.8" y2="1463.5" stroke="#fff" stroke-opacity="0.87" stroke-width="2.8"/>
<line x1="1423.7" y1="1400.0" x2="1423.7" y2="1463.5" stroke="#fff" stroke-opacity="0.58" stroke-width="2.7"/>
<line x1="1427.9" y1="1400.0" x2="1427.9" y2="1463.5" stroke="#fff" stroke-opacity="0.61" stroke-width="3.2"/>
<line x1="1446.7" y1="1407.0" x2="1446.7" y2="1458.5" stroke="#fff" stroke-opacity="0.82" stroke-width="2.1"/>
<line x1="1449.7" y1="1407.0" x2="1449.7" y2="1458.5" stroke="#fff" stroke-opacity="0.76" stroke-width="2.8"/>
<line x1="1464.1" y1="1396.0" x2="1464.1" y2="1456.5" stroke="#fff" stroke-opacity="0.81" stroke-width="2.2"/>
<line x1="1484.5" y1="1400.0" x2="1484.5" y2="1470.5" stroke="#fff" stroke-opacity="0.73" stroke-width="2.1"/>
<line x1="1491.6" y1="1391.0" x2="1491.6" y2="1458.5" stroke="#fff" stroke-opacity="0.67" stroke-width="2.5"/>
<line x1="1503.0" y1="1391.0" x2="1503.0" y2="1458.5" stroke="#fff" stroke-opacity="0.64" stroke-width="2.5"/>
<line x1="1513.1" y1="1396.0" x2="1513.1" y2="1470.5" stroke="#fff" stroke-opacity="0.71" stroke-width="2.1"/>
<line x1="1525.4" y1="1391.0" x2="1525.4" y2="1461.5" stroke="#fff" stroke-opacity="0.71" stroke-width="2.1"/>
<line x1="1528.8" y1="1409.0" x2="1528.8" y2="1456.5" stroke="#fff" stroke-opacity="0.78" stroke-width="2.0"/>
<line x1="1532.1" y1="1400.0" x2="1532.1" y2="1465.5" stroke="#fff" stroke-opacity="0.69" stroke-width="2.0"/>
<line x1="1559.3" y1="1407.0" x2="1559.3" y2="1461.5" stroke="#fff" stroke-opacity="0.81" stroke-width="3.2"/>
<line x1="1569.9" y1="1405.0" x2="1569.9" y2="1470.5" stroke="#fff" stroke-opacity="0.80" stroke-width="2.6"/>
<line x1="1576.8" y1="1412.0" x2="1576.8" y2="1470.5" stroke="#fff" stroke-opacity="0.69" stroke-width="3.0"/>
<line x1="1580.5" y1="1412.0" x2="1580.5" y2="1470.5" stroke="#fff" stroke-opacity="0.53" stroke-width="2.5"/>
<line x1="1588.9" y1="1407.0" x2="1588.9" y2="1461.5" stroke="#fff" stroke-opacity="0.69" stroke-width="2.2"/>
<line x1="1592.9" y1="1408.0" x2="1592.9" y2="1461.5" stroke="#fff" stroke-opacity="0.68" stroke-width="2.5"/>
<line x1="1595.5" y1="1407.0" x2="1595.5" y2="1462.5" stroke="#fff" stroke-opacity="0.56" stroke-width="2.8"/>
<line x1="1614.8" y1="1408.0" x2="1614.8" y2="1463.5" stroke="#fff" stroke-opacity="0.67" stroke-width="2.2"/>
<line x1="1626.5" y1="1403.0" x2="1626.5" y2="1467.5" stroke="#fff" stroke-opacity="0.71" stroke-width="2.3"/>
<line x1="1638.5" y1="1412.0" x2="1638.5" y2="1461.5" stroke="#fff" stroke-opacity="0.73" stroke-width="2.4"/>
<line x1="1644.9" y1="1409.0" x2="1644.9" y2="1472.5" stroke="#fff" stroke-opacity="0.79" stroke-width="2.8"/>
<line x1="1671.0" y1="1391.0" x2="1671.0" y2="1460.5" stroke="#fff" stroke-opacity="0.50" stroke-width="2.4"/>
<line x1="1676.4" y1="1391.0" x2="1676.4" y2="1460.5" stroke="#fff" stroke-opacity="0.80" stroke-width="2.4"/>
<line x1="1697.4" y1="1408.0" x2="1697.4" y2="1459.5" stroke="#fff" stroke-opacity="0.81" stroke-width="3.1"/>
<line x1="1728.6" y1="1403.0" x2="1728.6" y2="1460.5" stroke="#fff" stroke-opacity="0.87" stroke-width="3.0"/>
<line x1="1736.0" y1="1407.0" x2="1736.0" y2="1458.5" stroke="#fff" stroke-opacity="0.67" stroke-width="2.6"/>
<line x1="1750.2" y1="1412.0" x2="1750.2" y2="1461.5" stroke="#fff" stroke-opacity="0.53" stroke-width="2.4"/>
<line x1="1758.7" y1="1410.0" x2="1758.7" y2="1467.5" stroke="#fff" stroke-opacity="0.60" stroke-width="3.0"/>
<line x1="1766.1" y1="1403.0" x2="1766.1" y2="1472.5" stroke="#fff" stroke-opacity="0.81" stroke-width="2.8"/>
<line x1="1769.8" y1="1410.0" x2="1769.8" y2="1470.5" stroke="#fff" stroke-opacity="0.81" stroke-width="2.6"/>
<line x1="1780.0" y1="1409.0" x2="1780.0" y2="1460.5" stroke="#fff" stroke-opacity="0.76" stroke-width="2.5"/>
<line x1="1799.3" y1="1407.0" x2="1799.3" y2="1456.5" stroke="#fff" stroke-opacity="0.51" stroke-width="2.7"/>
<line x1="1803.0" y1="1409.0" x2="1803.0" y2="1467.5" stroke="#fff" stroke-opacity="0.85" stroke-width="2.6"/>
<line x1="1817.4" y1="1403.0" x2="1817.4" y2="1461.5" stroke="#fff" stroke-opacity="0.86" stroke-width="2.5"/>
<line x1="1826.8" y1="1396.0" x2="1826.8" y2="1462.5" stroke="#fff" stroke-opacity="0.60" stroke-width="2.2"/>
<line x1="1837.6" y1="1407.0" x2="1837.6" y2="1458.5" stroke="#fff" stroke-opacity="0.67" stroke-width="2.4"/>
<line x1="1845.4" y1="1391.0" x2="1845.4" y2="1467.5" stroke="#fff" stroke-opacity="0.54" stroke-width="2.4"/>
<line x1="1852.5" y1="1396.0" x2="1852.5" y2="1465.5" stroke="#fff" stroke-opacity="0.88" stroke-width="3.0"/>
<line x1="1856.0" y1="1396.0" x2="1856.0" y2="1465.5" stroke="#fff" stroke-opacity="0.67" stroke-width="2.3"/>
<line x1="1875.3" y1="1407.0" x2="1875.3" y2="1456.5" stroke="#fff" stroke-opacity="0.70" stroke-width="2.4"/>
<line x1="1889.2" y1="1411.0" x2="1889.2" y2="1456.5" stroke="#fff" stroke-opacity="0.75" stroke-width="2.4"/>
<line x1="1916.4" y1="1412.0" x2="1916.4" y2="1461.5" stroke="#fff" stroke-opacity="0.75" stroke-width="3.0"/>
<line x1="1923.4" y1="1412.0" x2="1923.4" y2="1461.5" stroke="#fff" stroke-opacity="0.61" stroke-width="2.3"/>
<line x1="1930.7" y1="1406.0" x2="1930.7" y2="1459.5" stroke="#fff" stroke-opacity="0.73" stroke-width="2.7"/>
<line x1="1935.7" y1="1406.0" x2="1935.7" y2="1459.5" stroke="#fff" stroke-opacity="0.85" stroke-width="3.1"/>
<line x1="1938.1" y1="1410.0" x2="1938.1" y2="1470.5" stroke="#fff" stroke-opacity="0.68" stroke-width="2.6"/>
<line x1="1942.8" y1="1410.0" x2="1942.8" y2="1470.5" stroke="#fff" stroke-opacity="0.82" stroke-width="2.7"/>
<line x1="1946.7" y1="1410.0" x2="1946.7" y2="1470.5" stroke="#fff" stroke-opacity="0.55" stroke-width="2.5"/>
<line x1="1950.7" y1="1407.0" x2="1950.7" y2="1467.5" stroke="#fff" stroke-opacity="0.55" stroke-width="2.9"/>
<line x1="1980.4" y1="1406.0" x2="1980.4" y2="1461.5" stroke="#fff" stroke-opacity="0.81" stroke-width="2.8"/>
<line x1="1983.0" y1="1400.0" x2="1983.0" y2="1461.5" stroke="#fff" stroke-opacity="0.52" stroke-width="2.5"/>
<line x1="1987.4" y1="1400.0" x2="1987.4" y2="1461.5" stroke="#fff" stroke-opacity="0.51" stroke-width="2.9"/>
<line x1="1994.3" y1="1400.0" x2="1994.3" y2="1461.5" stroke="#fff" stroke-opacity="0.80" stroke-width="2.3"/>
<line x1="2006.5" y1="1396.0" x2="2006.5" y2="1462.5" stroke="#fff" stroke-opacity="0.79" stroke-width="2.1"/>
<line x1="2009.4" y1="1396.0" x2="2009.4" y2="1462.5" stroke="#fff" stroke-opacity="0.56" stroke-width="3.2"/>
<line x1="2014.8" y1="1407.0" x2="2014.8" y2="1456.5" stroke="#fff" stroke-opacity="0.59" stroke-width="2.8"/>
<line x1="2017.6" y1="1407.0" x2="2017.6" y2="1456.5" stroke="#fff" stroke-opacity="0.87" stroke-width="3.0"/>
<line x1="2021.0" y1="1400.0" x2="2021.0" y2="1459.5" stroke="#fff" stroke-opacity="0.68" stroke-width="2.6"/>
<line x1="2024.4" y1="1400.0" x2="2024.4" y2="1459.5" stroke="#fff" stroke-opacity="0.66" stroke-width="2.2"/>
<line x1="2040.1" y1="1408.0" x2="2040.1" y2="1456.5" stroke="#fff" stroke-opacity="0.81" stroke-width="2.7"/>
<line x1="2059.0" y1="1410.0" x2="2059.0" y2="1470.5" stroke="#fff" stroke-opacity="0.81" stroke-width="2.6"/>
<line x1="2073.4" y1="1408.0" x2="2073.4" y2="1456.5" stroke="#fff" stroke-opacity="0.59" stroke-width="2.3"/>
<line x1="2081.0" y1="1408.0" x2="2081.0" y2="1456.5" stroke="#fff" stroke-opacity="0.55" stroke-width="2.9"/>
<line x1="2089.0" y1="1405.0" x2="2089.0" y2="1456.5" stroke="#fff" stroke-opacity="0.70" stroke-width="2.5"/>
<line x1="2093.4" y1="1412.0" x2="2093.4" y2="1461.5" stroke="#fff" stroke-opacity="0.89" stroke-width="2.5"/>
<line x1="2101.2" y1="1412.0" x2="2101.2" y2="1461.5" stroke="#fff" stroke-opacity="0.64" stroke-width="2.3"/>
<line x1="2104.2" y1="1391.0" x2="2104.2" y2="1465.5" stroke="#fff" stroke-opacity="0.61" stroke-width="2.3"/>
<line x1="2108.0" y1="1391.0" x2="2108.0" y2="1465.5" stroke="#fff" stroke-opacity="0.70" stroke-width="2.5"/>
<line x1="2111.9" y1="1391.0" x2="2111.9" y2="1465.5" stroke="#fff" stroke-opacity="0.69" stroke-width="3.1"/>
<line x1="2119.4" y1="1391.0" x2="2119.4" y2="1461.5" stroke="#fff" stroke-opacity="0.64" stroke-width="2.8"/>
<line x1="2144.8" y1="1403.0" x2="2144.8" y2="1465.5" stroke="#fff" stroke-opacity="0.70" stroke-width="3.2"/>
<line x1="2148.4" y1="1412.0" x2="2148.4" y2="1470.5" stroke="#fff" stroke-opacity="0.74" stroke-width="3.2"/>
<line x1="2167.9" y1="1396.0" x2="2167.9" y2="1467.5" stroke="#fff" stroke-opacity="0.64" stroke-width="2.3"/>
<line x1="2170.9" y1="1407.0" x2="2170.9" y2="1461.5" stroke="#fff" stroke-opacity="0.58" stroke-width="3.1"/>
<line x1="2182.9" y1="1406.0" x2="2182.9" y2="1472.5" stroke="#fff" stroke-opacity="0.55" stroke-width="2.4"/>
<line x1="2186.5" y1="1406.0" x2="2186.5" y2="1472.5" stroke="#fff" stroke-opacity="0.84" stroke-width="2.1"/>
<g id="grid" fill="none" stroke="#000">
<line x1="352.48" y1="156.3" x2="2194.70" y2="156.3" stroke-opacity="0.7" stroke-width="10.5" stroke-dasharray="3.766 33.894"/>
<line x1="352.48" y1="1651.5" x2="2194.70" y2="1651.5" stroke-opacity="0.65" stroke-width="11" stroke-dasharray="3.766 33.894"/>
<line x1="505.00" y1="152.98" x2="505.00" y2="175.58" stroke-opacity="0.7" stroke-width="3.766" stroke-dasharray="3.766 3.766"/>
<line x1="505.00" y1="1654.42" x2="505.00" y2="1631.82" stroke-opacity="0.65" stroke-width="3.766" stroke-dasharray="3.766 3.766"/>
<line x1="693.30" y1="152.98" x2="693.30" y2="175.58" stroke-opacity="0.7" stroke-width="3.766" stroke-dasharray="3.766 3.766"/>
<line x1="693.30" y1="1654.42" x2="693.30" y2="1631.82" stroke-opacity="0.65" stroke-width="3.766" stroke-dasharray="3.766 3.766"/>
<line x1="881.60" y1="152.98" x2="881.60" y2="175.58" stroke-opacity="0.7" stroke-width="3.766" stroke-dasharray="3.766 3.766"/>
<line x1="881.60" y1="1654.42" x2="881.60" y2="1631.82" stroke-opacity="0.65" stroke-width="3.766" stroke-dasharray="3.766 3.766"/>
<line x1="1069.90" y1="152.98" x2="1069.90" y2="175.58" stroke-opacity="0.7" stroke-width="3.766" stroke-dasharray="3.766 3.766"/>
<line x1="1069.90" y1="1654.42" x2="1069.90" y2="1631.82" stroke-opacity="0.65" stroke-width="3.766" stroke-dasharray="3.766 3.766"/>
<line x1="1446.50" y1="152.98" x2="1446.50" y2="175.58" stroke-opacity="0.7" stroke-width="3.766" stroke-dasharray="3.766 3.766"/>
<line x1="1446.50" y1="1654.42" x2="1446.50" y2="1631.82" stroke-opacity="0.65" stroke-width="3.766" stroke-dasharray="3.766 3.766"/>
<line x1="1634.80" y1="152.98" x2="1634.80" y2="175.58" stroke-opacity="0.7" stroke-width="3.766" stroke-dasharray="3.766 3.766"/>
<line x1="1634.80" y1="1654.42" x2="1634.80" y2="1631.82" stroke-opacity="0.65" stroke-width="3.766" stroke-dasharray="3.766 3.766"/>
<line x1="1823.10" y1="152.98" x2="1823.10" y2="175.58" stroke-opacity="0.7" stroke-width="3.766" stroke-dasharray="3.766 3.766"/>
<line x1="1823.10" y1="1654.42" x2="1823.10" y2="1631.82" stroke-opacity="0.65" stroke-width="3.766" stroke-dasharray="3.766 3.766"/>
<line x1="2011.40" y1="152.98" x2="2011.40" y2="175.58" stroke-opacity="0.7" stroke-width="3.766" stroke-dasharray="3.766 3.766"/>
<line x1="2011.40" y1="1654.42" x2="2011.40" y2="1631.82" stroke-opacity="0.65" stroke-width="3.766" stroke-dasharray="3.766 3.766"/>
<line x1="316.9" y1="186.85" x2="316.9" y2="1651.30" stroke-opacity="0.75" stroke-width="3.766" stroke-dasharray="3.766 33.864"/>
<line x1="324.4" y1="186.85" x2="324.4" y2="1651.30" stroke-opacity="0.65" stroke-width="3.766" stroke-dasharray="3.766 33.864"/>
<line x1="2196.6" y1="186.85" x2="2196.6" y2="1651.30" stroke-opacity="0.7" stroke-width="3.766" stroke-dasharray="3.766 33.864"/>
<line x1="2188.6" y1="186.85" x2="2188.6" y2="1651.30" stroke-opacity="0.6" stroke-width="3.766" stroke-dasharray="3.766 33.864"/>
<line x1="352.48" y1="339.25" x2="2127.38" y2="339.25" stroke-opacity="0.72" stroke-width="3.766" stroke-dasharray="3.766 33.894"/>
<line x1="318.58" y1="339.25" x2="337.41" y2="339.25" stroke-opacity="0.75" stroke-width="3.766" stroke-dasharray="3.766 3.766"/>
<line x1="1233.72" y1="339.25" x2="1252.55" y2="339.25" stroke-opacity="0.75" stroke-width="3.766" stroke-dasharray="3.766 3.766"/>
<line x1="1263.85" y1="339.25" x2="1282.68" y2="339.25" stroke-opacity="0.75" stroke-width="3.766" stroke-dasharray="3.766 3.766"/>
<line x1="352.48" y1="527.40" x2="2194.70" y2="527.40" stroke-opacity="0.72" stroke-width="3.766" stroke-dasharray="3.766 33.894"/>
<line x1="318.58" y1="527.40" x2="337.41" y2="527.40" stroke-opacity="0.75" stroke-width="3.766" stroke-dasharray="3.766 3.766"/>
<line x1="2178.99" y1="527.40" x2="2197.82" y2="527.40" stroke-opacity="0.75" stroke-width="3.766" stroke-dasharray="3.766 3.766"/>
<line x1="1233.72" y1="527.40" x2="1252.55" y2="527.40" stroke-opacity="0.75" stroke-width="3.766" stroke-dasharray="3.766 3.766"/>
<line x1="1263.85" y1="527.40" x2="1282.68" y2="527.40" stroke-opacity="0.75" stroke-width="3.766" stroke-dasharray="3.766 3.766"/>
<line x1="352.48" y1="715.55" x2="2194.70" y2="715.55" stroke-opacity="0.72" stroke-width="3.766" stroke-dasharray="3.766 33.894"/>
<line x1="318.58" y1="715.55" x2="337.41" y2="715.55" stroke-opacity="0.75" stroke-width="3.766" stroke-dasharray="3.766 3.766"/>
<line x1="2178.99" y1="715.55" x2="2197.82" y2="715.55" stroke-opacity="0.75" stroke-width="3.766" stroke-dasharray="3.766 3.766"/>
<line x1="1233.72" y1="715.55" x2="1252.55" y2="715.55" stroke-opacity="0.75" stroke-width="3.766" stroke-dasharray="3.766 3.766"/>
<line x1="1263.85" y1="715.55" x2="1282.68" y2="715.55" stroke-opacity="0.75" stroke-width="3.766" stroke-dasharray="3.766 3.766"/>
<line x1="352.48" y1="1091.85" x2="2194.70" y2="1091.85" stroke-opacity="0.72" stroke-width="3.766" stroke-dasharray="3.766 33.894"/>
<line x1="318.58" y1="1091.85" x2="337.41" y2="1091.85" stroke-opacity="0.75" stroke-width="3.766" stroke-dasharray="3.766 3.766"/>
<line x1="2178.99" y1="1091.85" x2="2197.82" y2="1091.85" stroke-opacity="0.75" stroke-width="3.766" stroke-dasharray="3.766 3.766"/>
<line x1="1233.72" y1="1091.85" x2="1252.55" y2="1091.85" stroke-opacity="0.75" stroke-width="3.766" stroke-dasharray="3.766 3.766"/>
<line x1="1263.85" y1="1091.85" x2="1282.68" y2="1091.85" stroke-opacity="0.75" stroke-width="3.766" stroke-dasharray="3.766 3.766"/>
<line x1="352.48" y1="1280.00" x2="2194.70" y2="1280.00" stroke-opacity="0.72" stroke-width="3.766" stroke-dasharray="3.766 33.894"/>
<line x1="318.58" y1="1280.00" x2="337.41" y2="1280.00" stroke-opacity="0.75" stroke-width="3.766" stroke-dasharray="3.766 3.766"/>
<line x1="2178.99" y1="1280.00" x2="2197.82" y2="1280.00" stroke-opacity="0.75" stroke-width="3.766" stroke-dasharray="3.766 3.766"/>
<line x1="1233.72" y1="1280.00" x2="1252.55" y2="1280.00" stroke-opacity="0.75" stroke-width="3.766" stroke-dasharray="3.766 3.766"/>
<line x1="1263.85" y1="1280.00" x2="1282.68" y2="1280.00" stroke-opacity="0.75" stroke-width="3.766" stroke-dasharray="3.766 3.766"/>
<line x1="352.48" y1="1468.15" x2="2194.70" y2="1468.15" stroke-opacity="0.72" stroke-width="3.766" stroke-dasharray="3.766 33.894"/>
<line x1="318.58" y1="1468.15" x2="337.41" y2="1468.15" stroke-opacity="0.75" stroke-width="3.766" stroke-dasharray="3.766 3.766"/>
<line x1="2178.99" y1="1468.15" x2="2197.82" y2="1468.15" stroke-opacity="0.75" stroke-width="3.766" stroke-dasharray="3.766 3.766"/>
<line x1="1233.72" y1="1468.15" x2="1252.55" y2="1468.15" stroke-opacity="0.75" stroke-width="3.766" stroke-dasharray="3.766 3.766"/>
<line x1="1263.85" y1="1468.15" x2="1282.68" y2="1468.15" stroke-opacity="0.75" stroke-width="3.766" stroke-dasharray="3.766 3.766"/>
<line x1="505.00" y1="186.85" x2="505.00" y2="303.50" stroke-opacity="0.72" stroke-width="3.766" stroke-dasharray="3.766 33.864"/>
<line x1="505.00" y1="375.00" x2="505.00" y2="491.65" stroke-opacity="0.72" stroke-width="3.766" stroke-dasharray="3.766 33.864"/>
<line x1="505.00" y1="563.15" x2="505.00" y2="679.80" stroke-opacity="0.72" stroke-width="3.766" stroke-dasharray="3.766 33.864"/>
<line x1="505.00" y1="751.30" x2="505.00" y2="867.95" stroke-opacity="0.72" stroke-width="3.766" stroke-dasharray="3.766 33.864"/>
<line x1="505.00" y1="939.45" x2="505.00" y2="1056.10" stroke-opacity="0.72" stroke-width="3.766" stroke-dasharray="3.766 33.864"/>
<line x1="505.00" y1="1127.60" x2="505.00" y2="1244.25" stroke-opacity="0.72" stroke-width="3.766" stroke-dasharray="3.766 33.864"/>
<line x1="505.00" y1="1315.75" x2="505.00" y2="1432.40" stroke-opacity="0.72" stroke-width="3.766" stroke-dasharray="3.766 33.864"/>
<line x1="505.00" y1="1503.90" x2="505.00" y2="1620.55" stroke-opacity="0.72" stroke-width="3.766" stroke-dasharray="3.766 33.864"/>
<line x1="693.30" y1="186.85" x2="693.30" y2="303.50" stroke-opacity="0.72" stroke-width="3.766" stroke-dasharray="3.766 33.864"/>
<line x1="693.30" y1="375.00" x2="693.30" y2="491.65" stroke-opacity="0.72" stroke-width="3.766" stroke-dasharray="3.766 33.864"/>
<line x1="693.30" y1="563.15" x2="693.30" y2="679.80" stroke-opacity="0.72" stroke-width="3.766" stroke-dasharray="3.766 33.864"/>
<line x1="693.30" y1="751.30" x2="693.30" y2="867.95" stroke-opacity="0.72" stroke-width="3.766" stroke-dasharray="3.766 33.864"/>
<line x1="693.30" y1="939.45" x2="693.30" y2="1056.10" stroke-opacity="0.72" stroke-width="3.766" stroke-dasharray="3.766 33.864"/>
<line x1="693.30" y1="1127.60" x2="693.30" y2="1244.25" stroke-opacity="0.72" stroke-width="3.766" stroke-dasharray="3.766 33.864"/>
<line x1="693.30" y1="1315.75" x2="693.30" y2="1432.40" stroke-opacity="0.72" stroke-width="3.766" stroke-dasharray="3.766 33.864"/>
<line x1="693.30" y1="1503.90" x2="693.30" y2="1620.55" stroke-opacity="0.72" stroke-width="3.766" stroke-dasharray="3.766 33.864"/>
<line x1="881.60" y1="186.85" x2="881.60" y2="303.50" stroke-opacity="0.72" stroke-width="3.766" stroke-dasharray="3.766 33.864"/>
<line x1="881.60" y1="375.00" x2="881.60" y2="491.65" stroke-opacity="0.72" stroke-width="3.766" stroke-dasharray="3.766 33.864"/>
<line x1="881.60" y1="563.15" x2="881.60" y2="679.80" stroke-opacity="0.72" stroke-width="3.766" stroke-dasharray="3.766 33.864"/>
<line x1="881.60" y1="751.30" x2="881.60" y2="867.95" stroke-opacity="0.72" stroke-width="3.766" stroke-dasharray="3.766 33.864"/>
<line x1="881.60" y1="939.45" x2="881.60" y2="1056.10" stroke-opacity="0.72" stroke-width="3.766" stroke-dasharray="3.766 33.864"/>
<line x1="881.60" y1="1127.60" x2="881.60" y2="1244.25" stroke-opacity="0.72" stroke-width="3.766" stroke-dasharray="3.766 33.864"/>
<line x1="881.60" y1="1315.75" x2="881.60" y2="1432.40" stroke-opacity="0.72" stroke-width="3.766" stroke-dasharray="3.766 33.864"/>
<line x1="881.60" y1="1503.90" x2="881.60" y2="1620.55" stroke-opacity="0.72" stroke-width="3.766" stroke-dasharray="3.766 33.864"/>
<line x1="1069.90" y1="186.85" x2="1069.90" y2="303.50" stroke-opacity="0.72" stroke-width="3.766" stroke-dasharray="3.766 33.864"/>
<line x1="1069.90" y1="375.00" x2="1069.90" y2="491.65" stroke-opacity="0.72" stroke-width="3.766" stroke-dasharray="3.766 33.864"/>
<line x1="1069.90" y1="563.15" x2="1069.90" y2="679.80" stroke-opacity="0.72" stroke-width="3.766" stroke-dasharray="3.766 33.864"/>
<line x1="1069.90" y1="751.30" x2="1069.90" y2="867.95" stroke-opacity="0.72" stroke-width="3.766" stroke-dasharray="3.766 33.864"/>
<line x1="1069.90" y1="939.45" x2="1069.90" y2="1056.10" stroke-opacity="0.72" stroke-width="3.766" stroke-dasharray="3.766 33.864"/>
<line x1="1069.90" y1="1127.60" x2="1069.90" y2="1244.25" stroke-opacity="0.72" stroke-width="3.766" stroke-dasharray="3.766 33.864"/>
<line x1="1069.90" y1="1315.75" x2="1069.90" y2="1432.40" stroke-opacity="0.72" stroke-width="3.766" stroke-dasharray="3.766 33.864"/>
<line x1="1069.90" y1="1503.90" x2="1069.90" y2="1620.55" stroke-opacity="0.72" stroke-width="3.766" stroke-dasharray="3.766 33.864"/>
<line x1="1446.50" y1="186.85" x2="1446.50" y2="303.50" stroke-opacity="0.72" stroke-width="3.766" stroke-dasharray="3.766 33.864"/>
<line x1="1446.50" y1="375.00" x2="1446.50" y2="491.65" stroke-opacity="0.72" stroke-width="3.766" stroke-dasharray="3.766 33.864"/>
<line x1="1446.50" y1="563.15" x2="1446.50" y2="679.80" stroke-opacity="0.72" stroke-width="3.766" stroke-dasharray="3.766 33.864"/>
<line x1="1446.50" y1="751.30" x2="1446.50" y2="867.95" stroke-opacity="0.72" stroke-width="3.766" stroke-dasharray="3.766 33.864"/>
<line x1="1446.50" y1="939.45" x2="1446.50" y2="1056.10" stroke-opacity="0.72" stroke-width="3.766" stroke-dasharray="3.766 33.864"/>
<line x1="1446.50" y1="1127.60" x2="1446.50" y2="1244.25" stroke-opacity="0.72" stroke-width="3.766" stroke-dasharray="3.766 33.864"/>
<line x1="1446.50" y1="1315.75" x2="1446.50" y2="1432.40" stroke-opacity="0.72" stroke-width="3.766" stroke-dasharray="3.766 33.864"/>
<line x1="1446.50" y1="1503.90" x2="1446.50" y2="1620.55" stroke-opacity="0.72" stroke-width="3.766" stroke-dasharray="3.766 33.864"/>
<line x1="1634.80" y1="186.85" x2="1634.80" y2="303.50" stroke-opacity="0.72" stroke-width="3.766" stroke-dasharray="3.766 33.864"/>
<line x1="1634.80" y1="375.00" x2="1634.80" y2="491.65" stroke-opacity="0.72" stroke-width="3.766" stroke-dasharray="3.766 33.864"/>
<line x1="1634.80" y1="563.15" x2="1634.80" y2="679.80" stroke-opacity="0.72" stroke-width="3.766" stroke-dasharray="3.766 33.864"/>
<line x1="1634.80" y1="751.30" x2="1634.80" y2="867.95" stroke-opacity="0.72" stroke-width="3.766" stroke-dasharray="3.766 33.864"/>
<line x1="1634.80" y1="939.45" x2="1634.80" y2="1056.10" stroke-opacity="0.72" stroke-width="3.766" stroke-dasharray="3.766 33.864"/>
<line x1="1634.80" y1="1127.60" x2="1634.80" y2="1244.25" stroke-opacity="0.72" stroke-width="3.766" stroke-dasharray="3.766 33.864"/>
<line x1="1634.80" y1="1315.75" x2="1634.80" y2="1432.40" stroke-opacity="0.72" stroke-width="3.766" stroke-dasharray="3.766 33.864"/>
<line x1="1634.80" y1="1503.90" x2="1634.80" y2="1620.55" stroke-opacity="0.72" stroke-width="3.766" stroke-dasharray="3.766 33.864"/>
<line x1="1823.10" y1="186.85" x2="1823.10" y2="303.50" stroke-opacity="0.72" stroke-width="3.766" stroke-dasharray="3.766 33.864"/>
<line x1="1823.10" y1="375.00" x2="1823.10" y2="491.65" stroke-opacity="0.72" stroke-width="3.766" stroke-dasharray="3.766 33.864"/>
<line x1="1823.10" y1="563.15" x2="1823.10" y2="679.80" stroke-opacity="0.72" stroke-width="3.766" stroke-dasharray="3.766 33.864"/>
<line x1="1823.10" y1="751.30" x2="1823.10" y2="867.95" stroke-opacity="0.72" stroke-width="3.766" stroke-dasharray="3.766 33.864"/>
<line x1="1823.10" y1="939.45" x2="1823.10" y2="1056.10" stroke-opacity="0.72" stroke-width="3.766" stroke-dasharray="3.766 33.864"/>
<line x1="1823.10" y1="1127.60" x2="1823.10" y2="1244.25" stroke-opacity="0.72" stroke-width="3.766" stroke-dasharray="3.766 33.864"/>
<line x1="1823.10" y1="1315.75" x2="1823.10" y2="1432.40" stroke-opacity="0.72" stroke-width="3.766" stroke-dasharray="3.766 33.864"/>
<line x1="1823.10" y1="1503.90" x2="1823.10" y2="1620.55" stroke-opacity="0.72" stroke-width="3.766" stroke-dasharray="3.766 33.864"/>
<line x1="2011.40" y1="186.85" x2="2011.40" y2="303.50" stroke-opacity="0.72" stroke-width="3.766" stroke-dasharray="3.766 33.864"/>
<line x1="2011.40" y1="375.00" x2="2011.40" y2="491.65" stroke-opacity="0.72" stroke-width="3.766" stroke-dasharray="3.766 33.864"/>
<line x1="2011.40" y1="563.15" x2="2011.40" y2="679.80" stroke-opacity="0.72" stroke-width="3.766" stroke-dasharray="3.766 33.864"/>
<line x1="2011.40" y1="751.30" x2="2011.40" y2="867.95" stroke-opacity="0.72" stroke-width="3.766" stroke-dasharray="3.766 33.864"/>
<line x1="2011.40" y1="939.45" x2="2011.40" y2="1056.10" stroke-opacity="0.72" stroke-width="3.766" stroke-dasharray="3.766 33.864"/>
<line x1="2011.40" y1="1127.60" x2="2011.40" y2="1244.25" stroke-opacity="0.72" stroke-width="3.766" stroke-dasharray="3.766 33.864"/>
<line x1="2011.40" y1="1315.75" x2="2011.40" y2="1432.40" stroke-opacity="0.72" stroke-width="3.766" stroke-dasharray="3.766 33.864"/>
<line x1="2011.40" y1="1503.90" x2="2011.40" y2="1620.55" stroke-opacity="0.72" stroke-width="3.766" stroke-dasharray="3.766 33.864"/>
<line x1="314.82" y1="903.70" x2="2199.7" y2="903.70" stroke-opacity="0.7" stroke-width="3.766" stroke-dasharray="3.766 3.766"/>
<line x1="1258.20" y1="149.22" x2="1258.20" y2="1656.3" stroke-opacity="0.7" stroke-width="3.766" stroke-dasharray="3.766 3.766"/>
<line x1="354.36" y1="890.52" x2="354.36" y2="916.88" stroke-opacity="0.8" stroke-width="3.766" stroke-dasharray="3.766 3.766"/>
<line x1="354.36" y1="894.29" x2="354.36" y2="913.12" stroke-opacity="0.3" stroke-width="3.766"/>
<line x1="392.02" y1="890.52" x2="392.02" y2="916.88" stroke-opacity="0.8" stroke-width="3.766" stroke-dasharray="3.766 3.766"/>
<line x1="392.02" y1="894.29" x2="392.02" y2="913.12" stroke-opacity="0.3" stroke-width="3.766"/>
<line x1="429.68" y1="890.52" x2="429.68" y2="916.88" stroke-opacity="0.8" stroke-width="3.766" stroke-dasharray="3.766 3.766"/>
<line x1="429.68" y1="894.29" x2="429.68" y2="913.12" stroke-opacity="0.3" stroke-width="3.766"/>
<line x1="467.34" y1="890.52" x2="467.34" y2="916.88" stroke-opacity="0.8" stroke-width="3.766" stroke-dasharray="3.766 3.766"/>
<line x1="467.34" y1="894.29" x2="467.34" y2="913.12" stroke-opacity="0.3" stroke-width="3.766"/>
<line x1="505.00" y1="879.22" x2="505.00" y2="928.18" stroke-opacity="0.7" stroke-width="3.766" stroke-dasharray="3.766 3.766"/>
<line x1="542.66" y1="890.52" x2="542.66" y2="916.88" stroke-opacity="0.8" stroke-width="3.766" stroke-dasharray="3.766 3.766"/>
<line x1="542.66" y1="894.29" x2="542.66" y2="913.12" stroke-opacity="0.3" stroke-width="3.766"/>
<line x1="580.32" y1="890.52" x2="580.32" y2="916.88" stroke-opacity="0.8" stroke-width="3.766" stroke-dasharray="3.766 3.766"/>
<line x1="580.32" y1="894.29" x2="580.32" y2="913.12" stroke-opacity="0.3" stroke-width="3.766"/>
<line x1="617.98" y1="890.52" x2="617.98" y2="916.88" stroke-opacity="0.8" stroke-width="3.766" stroke-dasharray="3.766 3.766"/>
<line x1="617.98" y1="894.29" x2="617.98" y2="913.12" stroke-opacity="0.3" stroke-width="3.766"/>
<line x1="655.64" y1="890.52" x2="655.64" y2="916.88" stroke-opacity="0.8" stroke-width="3.766" stroke-dasharray="3.766 3.766"/>
<line x1="655.64" y1="894.29" x2="655.64" y2="913.12" stroke-opacity="0.3" stroke-width="3.766"/>
<line x1="693.30" y1="879.22" x2="693.30" y2="928.18" stroke-opacity="0.7" stroke-width="3.766" stroke-dasharray="3.766 3.766"/>
<line x1="730.96" y1="890.52" x2="730.96" y2="916.88" stroke-opacity="0.8" stroke-width="3.766" stroke-dasharray="3.766 3.766"/>
<line x1="730.96" y1="894.29" x2="730.96" y2="913.12" stroke-opacity="0.3" stroke-width="3.766"/>
<line x1="768.62" y1="890.52" x2="768.62" y2="916.88" stroke-opacity="0.8" stroke-width="3.766" stroke-dasharray="3.766 3.766"/>
<line x1="768.62" y1="894.29" x2="768.62" y2="913.12" stroke-opacity="0.3" stroke-width="3.766"/>
<line x1="806.28" y1="890.52" x2="806.28" y2="916.88" stroke-opacity="0.8" stroke-width="3.766" stroke-dasharray="3.766 3.766"/>
<line x1="806.28" y1="894.29" x2="806.28" y2="913.12" stroke-opacity="0.3" stroke-width="3.766"/>
<line x1="843.94" y1="890.52" x2="843.94" y2="916.88" stroke-opacity="0.8" stroke-width="3.766" stroke-dasharray="3.766 3.766"/>
<line x1="843.94" y1="894.29" x2="843.94" y2="913.12" stroke-opacity="0.3" stroke-width="3.766"/>
<line x1="881.60" y1="879.22" x2="881.60" y2="928.18" stroke-opacity="0.7" stroke-width="3.766" stroke-dasharray="3.766 3.766"/>
<line x1="919.26" y1="890.52" x2="919.26" y2="916.88" stroke-opacity="0.8" stroke-width="3.766" stroke-dasharray="3.766 3.766"/>
<line x1="919.26" y1="894.29" x2="919.26" y2="913.12" stroke-opacity="0.3" stroke-width="3.766"/>
<line x1="956.92" y1="890.52" x2="956.92" y2="916.88" stroke-opacity="0.8" stroke-width="3.766" stroke-dasharray="3.766 3.766"/>
<line x1="956.92" y1="894.29" x2="956.92" y2="913.12" stroke-opacity="0.3" stroke-width="3.766"/>
<line x1="994.58" y1="890.52" x2="994.58" y2="916.88" stroke-opacity="0.8" stroke-width="3.766" stroke-dasharray="3.766 3.766"/>
<line x1="994.58" y1="894.29" x2="994.58" y2="913.12" stroke-opacity="0.3" stroke-width="3.766"/>
<line x1="1032.24" y1="890.52" x2="1032.24" y2="916.88" stroke-opacity="0.8" stroke-width="3.766" stroke-dasharray="3.766 3.766"/>
<line x1="1032.24" y1="894.29" x2="1032.24" y2="913.12" stroke-opacity="0.3" stroke-width="3.766"/>
<line x1="1069.90" y1="879.22" x2="1069.90" y2="928.18" stroke-opacity="0.7" stroke-width="3.766" stroke-dasharray="3.766 3.766"/>
<line x1="1107.56" y1="890.52" x2="1107.56" y2="916.88" stroke-opacity="0.8" stroke-width="3.766" stroke-dasharray="3.766 3.766"/>
<line x1="1107.56" y1="894.29" x2="1107.56" y2="913.12" stroke-opacity="0.3" stroke-width="3.766"/>
<line x1="1145.22" y1="890.52" x2="1145.22" y2="916.88" stroke-opacity="0.8" stroke-width="3.766" stroke-dasharray="3.766 3.766"/>
<line x1="1145.22" y1="894.29" x2="1145.22" y2="913.12" stroke-opacity="0.3" stroke-width="3.766"/>
<line x1="1182.88" y1="890.52" x2="1182.88" y2="916.88" stroke-opacity="0.8" stroke-width="3.766" stroke-dasharray="3.766 3.766"/>
<line x1="1182.88" y1="894.29" x2="1182.88" y2="913.12" stroke-opacity="0.3" stroke-width="3.766"/>
<line x1="1220.54" y1="890.52" x2="1220.54" y2="916.88" stroke-opacity="0.8" stroke-width="3.766" stroke-dasharray="3.766 3.766"/>
<line x1="1220.54" y1="894.29" x2="1220.54" y2="913.12" stroke-opacity="0.3" stroke-width="3.766"/>
<line x1="1258.20" y1="879.22" x2="1258.20" y2="928.18" stroke-opacity="0.7" stroke-width="3.766" stroke-dasharray="3.766 3.766"/>
<line x1="1295.86" y1="890.52" x2="1295.86" y2="916.88" stroke-opacity="0.8" stroke-width="3.766" stroke-dasharray="3.766 3.766"/>
<line x1="1295.86" y1="894.29" x2="1295.86" y2="913.12" stroke-opacity="0.3" stroke-width="3.766"/>
<line x1="1333.52" y1="890.52" x2="1333.52" y2="916.88" stroke-opacity="0.8" stroke-width="3.766" stroke-dasharray="3.766 3.766"/>
<line x1="1333.52" y1="894.29" x2="1333.52" y2="913.12" stroke-opacity="0.3" stroke-width="3.766"/>
<line x1="1371.18" y1="890.52" x2="1371.18" y2="916.88" stroke-opacity="0.8" stroke-width="3.766" stroke-dasharray="3.766 3.766"/>
<line x1="1371.18" y1="894.29" x2="1371.18" y2="913.12" stroke-opacity="0.3" stroke-width="3.766"/>
<line x1="1408.84" y1="890.52" x2="1408.84" y2="916.88" stroke-opacity="0.8" stroke-width="3.766" stroke-dasharray="3.766 3.766"/>
<line x1="1408.84" y1="894.29" x2="1408.84" y2="913.12" stroke-opacity="0.3" stroke-width="3.766"/>
<line x1="1446.50" y1="879.22" x2="1446.50" y2="928.18" stroke-opacity="0.7" stroke-width="3.766" stroke-dasharray="3.766 3.766"/>
<line x1="1484.16" y1="890.52" x2="1484.16" y2="916.88" stroke-opacity="0.8" stroke-width="3.766" stroke-dasharray="3.766 3.766"/>
<line x1="1484.16" y1="894.29" x2="1484.16" y2="913.12" stroke-opacity="0.3" stroke-width="3.766"/>
<line x1="1521.82" y1="890.52" x2="1521.82" y2="916.88" stroke-opacity="0.8" stroke-width="3.766" stroke-dasharray="3.766 3.766"/>
<line x1="1521.82" y1="894.29" x2="1521.82" y2="913.12" stroke-opacity="0.3" stroke-width="3.766"/>
<line x1="1559.48" y1="890.52" x2="1559.48" y2="916.88" stroke-opacity="0.8" stroke-width="3.766" stroke-dasharray="3.766 3.766"/>
<line x1="1559.48" y1="894.29" x2="1559.48" y2="913.12" stroke-opacity="0.3" stroke-width="3.766"/>
<line x1="1597.14" y1="890.52" x2="1597.14" y2="916.88" stroke-opacity="0.8" stroke-width="3.766" stroke-dasharray="3.766 3.766"/>
<line x1="1597.14" y1="894.29" x2="1597.14" y2="913.12" stroke-opacity="0.3" stroke-width="3.766"/>
<line x1="1634.80" y1="879.22" x2="1634.80" y2="928.18" stroke-opacity="0.7" stroke-width="3.766" stroke-dasharray="3.766 3.766"/>
<line x1="1672.46" y1="890.52" x2="1672.46" y2="916.88" stroke-opacity="0.8" stroke-width="3.766" stroke-dasharray="3.766 3.766"/>
<line x1="1672.46" y1="894.29" x2="1672.46" y2="913.12" stroke-opacity="0.3" stroke-width="3.766"/>
<line x1="1710.12" y1="890.52" x2="1710.12" y2="916.88" stroke-opacity="0.8" stroke-width="3.766" stroke-dasharray="3.766 3.766"/>
<line x1="1710.12" y1="894.29" x2="1710.12" y2="913.12" stroke-opacity="0.3" stroke-width="3.766"/>
<line x1="1747.78" y1="890.52" x2="1747.78" y2="916.88" stroke-opacity="0.8" stroke-width="3.766" stroke-dasharray="3.766 3.766"/>
<line x1="1747.78" y1="894.29" x2="1747.78" y2="913.12" stroke-opacity="0.3" stroke-width="3.766"/>
<line x1="1785.44" y1="890.52" x2="1785.44" y2="916.88" stroke-opacity="0.8" stroke-width="3.766" stroke-dasharray="3.766 3.766"/>
<line x1="1785.44" y1="894.29" x2="1785.44" y2="913.12" stroke-opacity="0.3" stroke-width="3.766"/>
<line x1="1823.10" y1="879.22" x2="1823.10" y2="928.18" stroke-opacity="0.7" stroke-width="3.766" stroke-dasharray="3.766 3.766"/>
<line x1="1860.76" y1="890.52" x2="1860.76" y2="916.88" stroke-opacity="0.8" stroke-width="3.766" stroke-dasharray="3.766 3.766"/>
<line x1="1860.76" y1="894.29" x2="1860.76" y2="913.12" stroke-opacity="0.3" stroke-width="3.766"/>
<line x1="1898.42" y1="890.52" x2="1898.42" y2="916.88" stroke-opacity="0.8" stroke-width="3.766" stroke-dasharray="3.766 3.766"/>
<line x1="1898.42" y1="894.29" x2="1898.42" y2="913.12" stroke-opacity="0.3" stroke-width="3.766"/>
<line x1="1936.08" y1="890.52" x2="1936.08" y2="916.88" stroke-opacity="0.8" stroke-width="3.766" stroke-dasharray="3.766 3.766"/>
<line x1="1936.08" y1="894.29" x2="1936.08" y2="913.12" stroke-opacity="0.3" stroke-width="3.766"/>
<line x1="1973.74" y1="890.52" x2="1973.74" y2="916.88" stroke-opacity="0.8" stroke-width="3.766" stroke-dasharray="3.766 3.766"/>
<line x1="1973.74" y1="894.29" x2="1973.74" y2="913.12" stroke-opacity="0.3" stroke-width="3.766"/>
<line x1="2011.40" y1="879.22" x2="2011.40" y2="928.18" stroke-opacity="0.7" stroke-width="3.766" stroke-dasharray="3.766 3.766"/>
<line x1="2049.06" y1="890.52" x2="2049.06" y2="916.88" stroke-opacity="0.8" stroke-width="3.766" stroke-dasharray="3.766 3.766"/>
<line x1="2049.06" y1="894.29" x2="2049.06" y2="913.12" stroke-opacity="0.3" stroke-width="3.766"/>
<line x1="2086.72" y1="890.52" x2="2086.72" y2="916.88" stroke-opacity="0.8" stroke-width="3.766" stroke-dasharray="3.766 3.766"/>
<line x1="2086.72" y1="894.29" x2="2086.72" y2="913.12" stroke-opacity="0.3" stroke-width="3.766"/>
<line x1="2124.38" y1="890.52" x2="2124.38" y2="916.88" stroke-opacity="0.8" stroke-width="3.766" stroke-dasharray="3.766 3.766"/>
<line x1="2124.38" y1="894.29" x2="2124.38" y2="913.12" stroke-opacity="0.3" stroke-width="3.766"/>
<line x1="2162.04" y1="890.52" x2="2162.04" y2="916.88" stroke-opacity="0.8" stroke-width="3.766" stroke-dasharray="3.766 3.766"/>
<line x1="2162.04" y1="894.29" x2="2162.04" y2="913.12" stroke-opacity="0.3" stroke-width="3.766"/>
<line x1="1245.02" y1="188.73" x2="1271.38" y2="188.73" stroke-opacity="0.75" stroke-width="3.766" stroke-dasharray="3.766 3.766"/>
<line x1="1245.02" y1="226.36" x2="1271.38" y2="226.36" stroke-opacity="0.75" stroke-width="3.766" stroke-dasharray="3.766 3.766"/>
<line x1="1245.02" y1="263.99" x2="1271.38" y2="263.99" stroke-opacity="0.75" stroke-width="3.766" stroke-dasharray="3.766 3.766"/>
<line x1="1245.02" y1="301.62" x2="1271.38" y2="301.62" stroke-opacity="0.75" stroke-width="3.766" stroke-dasharray="3.766 3.766"/>
<line x1="1245.02" y1="376.88" x2="1271.38" y2="376.88" stroke-opacity="0.75" stroke-width="3.766" stroke-dasharray="3.766 3.766"/>
<line x1="1245.02" y1="414.51" x2="1271.38" y2="414.51" stroke-opacity="0.75" stroke-width="3.766" stroke-dasharray="3.766 3.766"/>
<line x1="1245.02" y1="452.14" x2="1271.38" y2="452.14" stroke-opacity="0.75" stroke-width="3.766" stroke-dasharray="3.766 3.766"/>
<line x1="1245.02" y1="489.77" x2="1271.38" y2="489.77" stroke-opacity="0.75" stroke-width="3.766" stroke-dasharray="3.766 3.766"/>
<line x1="1245.02" y1="565.03" x2="1271.38" y2="565.03" stroke-opacity="0.75" stroke-width="3.766" stroke-dasharray="3.766 3.766"/>
<line x1="1245.02" y1="602.66" x2="1271.38" y2="602.66" stroke-opacity="0.75" stroke-width="3.766" stroke-dasharray="3.766 3.766"/>
<line x1="1245.02" y1="640.29" x2="1271.38" y2="640.29" stroke-opacity="0.75" stroke-width="3.766" stroke-dasharray="3.766 3.766"/>
<line x1="1245.02" y1="677.92" x2="1271.38" y2="677.92" stroke-opacity="0.75" stroke-width="3.766" stroke-dasharray="3.766 3.766"/>
<line x1="1245.02" y1="753.18" x2="1271.38" y2="753.18" stroke-opacity="0.75" stroke-width="3.766" stroke-dasharray="3.766 3.766"/>
<line x1="1245.02" y1="790.81" x2="1271.38" y2="790.81" stroke-opacity="0.75" stroke-width="3.766" stroke-dasharray="3.766 3.766"/>
<line x1="1245.02" y1="828.44" x2="1271.38" y2="828.44" stroke-opacity="0.75" stroke-width="3.766" stroke-dasharray="3.766 3.766"/>
<line x1="1245.02" y1="866.07" x2="1271.38" y2="866.07" stroke-opacity="0.75" stroke-width="3.766" stroke-dasharray="3.766 3.766"/>
<line x1="1245.02" y1="941.33" x2="1271.38" y2="941.33" stroke-opacity="0.75" stroke-width="3.766" stroke-dasharray="3.766 3.766"/>
<line x1="1245.02" y1="978.96" x2="1271.38" y2="978.96" stroke-opacity="0.75" stroke-width="3.766" stroke-dasharray="3.766 3.766"/>
<line x1="1245.02" y1="1016.59" x2="1271.38" y2="1016.59" stroke-opacity="0.75" stroke-width="3.766" stroke-dasharray="3.766 3.766"/>
<line x1="1245.02" y1="1054.22" x2="1271.38" y2="1054.22" stroke-opacity="0.75" stroke-width="3.766" stroke-dasharray="3.766 3.766"/>
<line x1="1245.02" y1="1129.48" x2="1271.38" y2="1129.48" stroke-opacity="0.75" stroke-width="3.766" stroke-dasharray="3.766 3.766"/>
<line x1="1245.02" y1="1167.11" x2="1271.38" y2="1167.11" stroke-opacity="0.75" stroke-width="3.766" stroke-dasharray="3.766 3.766"/>
<line x1="1245.02" y1="1204.74" x2="1271.38" y2="1204.74" stroke-opacity="0.75" stroke-width="3.766" stroke-dasharray="3.766 3.766"/>
<line x1="1245.02" y1="1242.37" x2="1271.38" y2="1242.37" stroke-opacity="0.75" stroke-width="3.766" stroke-dasharray="3.766 3.766"/>
<line x1="1245.02" y1="1317.63" x2="1271.38" y2="1317.63" stroke-opacity="0.75" stroke-width="3.766" stroke-dasharray="3.766 3.766"/>
<line x1="1245.02" y1="1355.26" x2="1271.38" y2="1355.26" stroke-opacity="0.75" stroke-width="3.766" stroke-dasharray="3.766 3.766"/>
<line x1="1245.02" y1="1392.89" x2="1271.38" y2="1392.89" stroke-opacity="0.75" stroke-width="3.766" stroke-dasharray="3.766 3.766"/>
<line x1="1245.02" y1="1430.52" x2="1271.38" y2="1430.52" stroke-opacity="0.75" stroke-width="3.766" stroke-dasharray="3.766 3.766"/>
<line x1="1245.02" y1="1505.78" x2="1271.38" y2="1505.78" stroke-opacity="0.75" stroke-width="3.766" stroke-dasharray="3.766 3.766"/>
<line x1="1245.02" y1="1543.41" x2="1271.38" y2="1543.41" stroke-opacity="0.75" stroke-width="3.766" stroke-dasharray="3.766 3.766"/>
<line x1="1245.02" y1="1581.04" x2="1271.38" y2="1581.04" stroke-opacity="0.75" stroke-width="3.766" stroke-dasharray="3.766 3.766"/>
<line x1="1245.02" y1="1618.67" x2="1271.38" y2="1618.67" stroke-opacity="0.75" stroke-width="3.766" stroke-dasharray="3.766 3.766"/>
</g>
<polygon points="2157,351 2180,328.5 2180,371" fill="#00009c"/>
<rect x="2180" y="349" width="18" height="4.5" fill="#3838b8"/>
<rect x="852" y="104.4" width="809" height="3.6" fill="#9a4a4a"/>
<rect x="852" y="101.6" width="809" height="8.8" fill="#e09a9a" opacity="0.6"/>
<path d="M862.5,80.5 H852 V132.5 H862.5" fill="none" stroke="#555" stroke-width="4.6"/>
<path d="M1651,80.5 H1661.3 V132.5 H1651" fill="none" stroke="#484848" stroke-width="4.8"/>
<polygon points="1244.5,76 1272,76 1258.2,94" fill="#f08016"/>
<polygon points="1238.6,146 1278.2,146 1258.2,174" fill="#ff7e00"/>
<rect x="1240" y="143.5" width="37" height="6" fill="#7a4a10" opacity="0.8"/>
<path d="M235.5,558.5 V497.5 H279.6 L309.5,528.0 L279.6,558.5" fill="#fdfdff" stroke="#7474be" stroke-width="4.6" stroke-linejoin="miter"/>
<line x1="233.3" y1="558.5" x2="281" y2="558.5" stroke="#7474be" stroke-width="5" stroke-dasharray="4.5 3"/>
<path d="M235.5,927.1 V866.1 H279.6 L309.5,896.6 L279.6,927.1" fill="#fdfdff" stroke="#7cb6b6" stroke-width="4.6" stroke-linejoin="miter"/>
<line x1="233.3" y1="927.1" x2="281" y2="927.1" stroke="#7cb6b6" stroke-width="5" stroke-dasharray="4.5 3"/>
<path d="M235.5,1322.0 V1261.0 H279.6 L309.5,1291.5 L279.6,1322.0" fill="#fdfdff" stroke="#c27cc8" stroke-width="4.6" stroke-linejoin="miter"/>
<line x1="233.3" y1="1322.0" x2="281" y2="1322.0" stroke="#c27cc8" stroke-width="5" stroke-dasharray="4.5 3"/>
<polygon points="235,1617.5 281,1617.5 309,1648 281,1680.5 235,1680.5" fill="#ac0000"/>
<line x1="236" y1="1680" x2="282" y2="1680" stroke="#fff" stroke-opacity="0.45" stroke-width="3" stroke-dasharray="3.8 3.8"/>
<clipPath id="c1"><polygon points="250,500 271.4,500 271.4,552 263.1,552 263.1,541.5 250,541.5"/></clipPath>
<text class="sans" style="fill:#00008c" clip-path="url(#c1)"><tspan x="251.06" y="549.00" font-size="61.63" textLength="29.96" lengthAdjust="spacingAndGlyphs">1</tspan></text>
<text class="sans" style="fill:#0f9494"><tspan x="249.45" y="916.00" font-size="57.86" textLength="29.43" lengthAdjust="spacingAndGlyphs">2</tspan></text>
<text class="sans" style="fill:#921c96"><tspan x="250.02" y="1311.42" font-size="58.45" textLength="28.54" lengthAdjust="spacingAndGlyphs">3</tspan></text>
<text class="sans" style="fill:#fff"><tspan x="238.13" y="1672.70" font-size="65.51" textLength="49.63" lengthAdjust="spacingAndGlyphs">M</tspan></text>
</g>
<g id="annot" filter="url(#bl2)">
<rect x="315.9" y="144.0" width="13.2" height="91.0" fill="#000" opacity="0.14"/>
<rect x="317.05" y="141.0" width="10.9" height="97.0" rx="4.3" ry="4" fill="#000"/>
<rect x="315.9" y="290.6" width="13.2" height="91.0" fill="#000" opacity="0.14"/>
<rect x="317.05" y="287.6" width="10.9" height="97.0" rx="4.3" ry="4" fill="#000"/>
<rect x="315.9" y="437.1" width="13.2" height="91.0" fill="#000" opacity="0.14"/>
<rect x="317.05" y="434.1" width="10.9" height="97.0" rx="4.3" ry="4" fill="#000"/>
<rect x="315.9" y="583.7" width="13.2" height="91.0" fill="#000" opacity="0.14"/>
<rect x="317.05" y="580.7" width="10.9" height="97.0" rx="4.3" ry="4" fill="#000"/>
<rect x="315.9" y="730.2" width="13.2" height="91.0" fill="#000" opacity="0.14"/>
<rect x="317.05" y="727.2" width="10.9" height="97.0" rx="4.3" ry="4" fill="#000"/>
<rect x="315.9" y="876.8" width="13.2" height="91.0" fill="#000" opacity="0.14"/>
<rect x="317.05" y="873.8" width="10.9" height="97.0" rx="4.3" ry="4" fill="#000"/>
<rect x="315.9" y="1023.3" width="13.2" height="91.0" fill="#000" opacity="0.14"/>
<rect x="317.05" y="1020.3" width="10.9" height="97.0" rx="4.3" ry="4" fill="#000"/>
<rect x="315.9" y="1169.9" width="13.2" height="91.0" fill="#000" opacity="0.14"/>
<rect x="317.05" y="1166.9" width="10.9" height="97.0" rx="4.3" ry="4" fill="#000"/>
<rect x="315.9" y="1316.4" width="13.2" height="91.0" fill="#000" opacity="0.14"/>
<rect x="317.05" y="1313.4" width="10.9" height="97.0" rx="4.3" ry="4" fill="#000"/>
<rect x="315.9" y="1463.0" width="13.2" height="91.0" fill="#000" opacity="0.14"/>
<rect x="317.05" y="1460.0" width="10.9" height="97.0" rx="4.3" ry="4" fill="#000"/>
<rect x="315.9" y="1609.5" width="13.2" height="69.8" fill="#000" opacity="0.14"/>
<rect x="317.05" y="1606.5" width="10.9" height="75.8" rx="4.3" ry="4" fill="#000"/>
<rect x="815.2" y="144.0" width="13.2" height="91.0" fill="#000" opacity="0.14"/>
<rect x="816.35" y="141.0" width="10.9" height="97.0" rx="4.3" ry="4" fill="#000"/>
<rect x="815.2" y="290.6" width="13.2" height="91.0" fill="#000" opacity="0.14"/>
<rect x="816.35" y="287.6" width="10.9" height="97.0" rx="4.3" ry="4" fill="#000"/>
<rect x="815.2" y="437.1" width="13.2" height="91.0" fill="#000" opacity="0.14"/>
<rect x="816.35" y="434.1" width="10.9" height="97.0" rx="4.3" ry="4" fill="#000"/>
<rect x="815.2" y="583.7" width="13.2" height="91.0" fill="#000" opacity="0.14"/>
<rect x="816.35" y="580.7" width="10.9" height="97.0" rx="4.3" ry="4" fill="#000"/>
<rect x="815.2" y="730.2" width="13.2" height="91.0" fill="#000" opacity="0.14"/>
<rect x="816.35" y="727.2" width="10.9" height="97.0" rx="4.3" ry="4" fill="#000"/>
<rect x="815.2" y="876.8" width="13.2" height="91.0" fill="#000" opacity="0.14"/>
<rect x="816.35" y="873.8" width="10.9" height="97.0" rx="4.3" ry="4" fill="#000"/>
<rect x="815.2" y="1023.3" width="13.2" height="91.0" fill="#000" opacity="0.14"/>
<rect x="816.35" y="1020.3" width="10.9" height="97.0" rx="4.3" ry="4" fill="#000"/>
<rect x="815.2" y="1169.9" width="13.2" height="91.0" fill="#000" opacity="0.14"/>
<rect x="816.35" y="1166.9" width="10.9" height="97.0" rx="4.3" ry="4" fill="#000"/>
<rect x="815.2" y="1316.4" width="13.2" height="91.0" fill="#000" opacity="0.14"/>
<rect x="816.35" y="1313.4" width="10.9" height="97.0" rx="4.3" ry="4" fill="#000"/>
<rect x="815.2" y="1463.0" width="13.2" height="91.0" fill="#000" opacity="0.14"/>
<rect x="816.35" y="1460.0" width="10.9" height="97.0" rx="4.3" ry="4" fill="#000"/>
<rect x="815.2" y="1609.5" width="13.2" height="69.8" fill="#000" opacity="0.14"/>
<rect x="816.35" y="1606.5" width="10.9" height="75.8" rx="4.3" ry="4" fill="#000"/>
<rect x="1175.3" y="144.0" width="13.2" height="91.0" fill="#000" opacity="0.14"/>
<rect x="1176.45" y="141.0" width="10.9" height="97.0" rx="4.3" ry="4" fill="#000"/>
<rect x="1175.3" y="290.6" width="13.2" height="91.0" fill="#000" opacity="0.14"/>
<rect x="1176.45" y="287.6" width="10.9" height="97.0" rx="4.3" ry="4" fill="#000"/>
<rect x="1175.3" y="437.1" width="13.2" height="91.0" fill="#000" opacity="0.14"/>
<rect x="1176.45" y="434.1" width="10.9" height="97.0" rx="4.3" ry="4" fill="#000"/>
<rect x="1175.3" y="583.7" width="13.2" height="91.0" fill="#000" opacity="0.14"/>
<rect x="1176.45" y="580.7" width="10.9" height="97.0" rx="4.3" ry="4" fill="#000"/>
<rect x="1175.3" y="730.2" width="13.2" height="91.0" fill="#000" opacity="0.14"/>
<rect x="1176.45" y="727.2" width="10.9" height="97.0" rx="4.3" ry="4" fill="#000"/>
<rect x="1175.3" y="876.8" width="13.2" height="91.0" fill="#000" opacity="0.14"/>
<rect x="1176.45" y="873.8" width="10.9" height="97.0" rx="4.3" ry="4" fill="#000"/>
<rect x="1175.3" y="1023.3" width="13.2" height="91.0" fill="#000" opacity="0.14"/>
<rect x="1176.45" y="1020.3" width="10.9" height="97.0" rx="4.3" ry="4" fill="#000"/>
<rect x="1175.3" y="1169.9" width="13.2" height="91.0" fill="#000" opacity="0.14"/>
<rect x="1176.45" y="1166.9" width="10.9" height="97.0" rx="4.3" ry="4" fill="#000"/>
<rect x="1175.3" y="1316.4" width="13.2" height="91.0" fill="#000" opacity="0.14"/>
<rect x="1176.45" y="1313.4" width="10.9" height="97.0" rx="4.3" ry="4" fill="#000"/>
<rect x="1175.3" y="1463.0" width="13.2" height="91.0" fill="#000" opacity="0.14"/>
<rect x="1176.45" y="1460.0" width="10.9" height="97.0" rx="4.3" ry="4" fill="#000"/>
<rect x="1175.3" y="1609.5" width="13.2" height="69.8" fill="#000" opacity="0.14"/>
<rect x="1176.45" y="1606.5" width="10.9" height="75.8" rx="4.3" ry="4" fill="#000"/>
<path d="M2191,509.6 H2267.8 V552.1" fill="none" stroke="#000" stroke-width="11.6" stroke-linejoin="miter"/>
<rect x="2237.0" y="553.6" width="62" height="12" fill="#8a8a8a"/>
<rect x="2245.0" y="567.6" width="46" height="12" fill="#7a7a7a"/>
<line x1="2224.5" y1="552.1" x2="2312.0" y2="552.1" stroke="#000" stroke-width="10.6" stroke-linecap="round"/>
<line x1="2237.5" y1="566.1" x2="2298.5" y2="566.1" stroke="#000" stroke-width="10.2" stroke-linecap="round"/>
<line x1="2246.0" y1="581.9" x2="2289.7" y2="581.9" stroke="#000" stroke-width="10.2" stroke-linecap="round"/>
<path d="M2194.2,903.2 H2271.0 V945.7" fill="none" stroke="#000" stroke-width="11.6" stroke-linejoin="miter"/>
<rect x="2240.2" y="947.2" width="62" height="12" fill="#8a8a8a"/>
<rect x="2248.2" y="961.2" width="46" height="12" fill="#7a7a7a"/>
<line x1="2227.7" y1="945.7" x2="2315.2" y2="945.7" stroke="#000" stroke-width="10.6" stroke-linecap="round"/>
<line x1="2240.7" y1="959.7" x2="2301.7" y2="959.7" stroke="#000" stroke-width="10.2" stroke-linecap="round"/>
<line x1="2249.2" y1="975.5" x2="2292.9" y2="975.5" stroke="#000" stroke-width="10.2" stroke-linecap="round"/>
<path d="M2197,1296.8 H2273.8 V1339.3" fill="none" stroke="#000" stroke-width="11.6" stroke-linejoin="miter"/>
<rect x="2243.0" y="1340.8" width="62" height="12" fill="#8a8a8a"/>
<rect x="2251.0" y="1354.8" width="46" height="12" fill="#7a7a7a"/>
<line x1="2230.5" y1="1339.3" x2="2318.0" y2="1339.3" stroke="#000" stroke-width="10.6" stroke-linecap="round"/>
<line x1="2243.5" y1="1353.3" x2="2304.5" y2="1353.3" stroke="#000" stroke-width="10.2" stroke-linecap="round"/>
<line x1="2252.0" y1="1369.1" x2="2295.7" y2="1369.1" stroke="#000" stroke-width="10.2" stroke-linecap="round"/>
<path d="M2199,1646 H2275.8 V1688.5" fill="none" stroke="#000" stroke-width="11.6" stroke-linejoin="miter"/>
<rect x="2245.0" y="1690.0" width="62" height="12" fill="#8a8a8a"/>
<rect x="2253.0" y="1704.0" width="46" height="12" fill="#7a7a7a"/>
<line x1="2232.5" y1="1688.5" x2="2320.0" y2="1688.5" stroke="#000" stroke-width="10.6" stroke-linecap="round"/>
<line x1="2245.5" y1="1702.5" x2="2306.5" y2="1702.5" stroke="#000" stroke-width="10.2" stroke-linecap="round"/>
<line x1="2254.0" y1="1718.3" x2="2297.7" y2="1718.3" stroke="#000" stroke-width="10.2" stroke-linecap="round"/>
<text><tspan x="159.86" y="83.43" font-size="87.00" textLength="337.07" lengthAdjust="spacingAndGlyphs" font-weight="bold" stroke="#fff" stroke-width="1.0" stroke-linejoin="round">Tek Stop</tspan></text>
<text><tspan x="13.49" y="425.04" font-size="110.38" textLength="72.73" lengthAdjust="spacingAndGlyphs" stroke="#fff" stroke-width="1.2" stroke-linejoin="round">V</tspan><tspan x="85.70" y="426.01" font-size="69.25" textLength="83.01" lengthAdjust="spacingAndGlyphs" stroke="#fff" stroke-width="1.0" stroke-linejoin="round">GS</tspan></text>
<text><tspan x="19.68" y="782.99" font-size="107.22" textLength="65.78" lengthAdjust="spacingAndGlyphs" font-style="italic" stroke="#fff" stroke-width="1.4" stroke-linejoin="round">V</tspan><tspan x="87.36" y="785.68" font-size="66.76" textLength="83.23" lengthAdjust="spacingAndGlyphs" font-style="italic" stroke="#fff" stroke-width="0.7" stroke-linejoin="round">spv</tspan></text>
<text><tspan x="36.70" y="1181.40" font-size="112.15" textLength="33.39" lengthAdjust="spacingAndGlyphs" font-style="italic" stroke="#fff" stroke-width="1.4" stroke-linejoin="round">I</tspan><tspan x="70.45" y="1183.04" font-size="70.29" textLength="84.14" lengthAdjust="spacingAndGlyphs" font-style="italic" stroke="#fff" stroke-width="0.7" stroke-linejoin="round">spv</tspan></text>
<text><tspan x="28.51" y="1508.60" font-size="109.77" textLength="62.43" lengthAdjust="spacingAndGlyphs" font-style="italic" stroke="#fff" stroke-width="1.4" stroke-linejoin="round">P</tspan><tspan x="89.75" y="1510.20" font-size="68.09" textLength="84.14" lengthAdjust="spacingAndGlyphs" font-style="italic" stroke="#fff" stroke-width="0.7" stroke-linejoin="round">spv</tspan></text>
<text><tspan x="318.65" y="1804.14" font-size="106.49" textLength="31.96" lengthAdjust="spacingAndGlyphs" stroke="#fff" stroke-width="1.8" stroke-linejoin="round">t</tspan><tspan x="349.43" y="1804.52" font-size="67.85" textLength="33.33" lengthAdjust="spacingAndGlyphs" stroke="#fff" stroke-width="0.8" stroke-linejoin="round">0</tspan></text>
<text><tspan x="818.17" y="1803.94" font-size="106.14" textLength="31.42" lengthAdjust="spacingAndGlyphs" stroke="#fff" stroke-width="1.8" stroke-linejoin="round">t</tspan><tspan x="848.89" y="1802.80" font-size="65.65" textLength="31.14" lengthAdjust="spacingAndGlyphs" stroke="#fff" stroke-width="0.8" stroke-linejoin="round">1</tspan></text>
<text><tspan x="1167.15" y="1805.17" font-size="103.16" textLength="32.06" lengthAdjust="spacingAndGlyphs" stroke="#fff" stroke-width="1.8" stroke-linejoin="round">t</tspan><tspan x="1198.11" y="1805.70" font-size="65.76" textLength="34.38" lengthAdjust="spacingAndGlyphs" stroke="#fff" stroke-width="0.8" stroke-linejoin="round">2</tspan></text>
<text><tspan x="1100.96" y="1969.90" font-size="76.67" textLength="23.25" lengthAdjust="spacingAndGlyphs">(</tspan><tspan x="1125.50" y="1969.61" font-size="78.11" textLength="36.59" lengthAdjust="spacingAndGlyphs" font-weight="bold" stroke="#fff" stroke-width="0.8" stroke-linejoin="round">a</tspan><tspan x="1162.79" y="1969.90" font-size="76.67" textLength="23.44" lengthAdjust="spacingAndGlyphs">)</tspan></text>
</g>
</svg></body></html>
